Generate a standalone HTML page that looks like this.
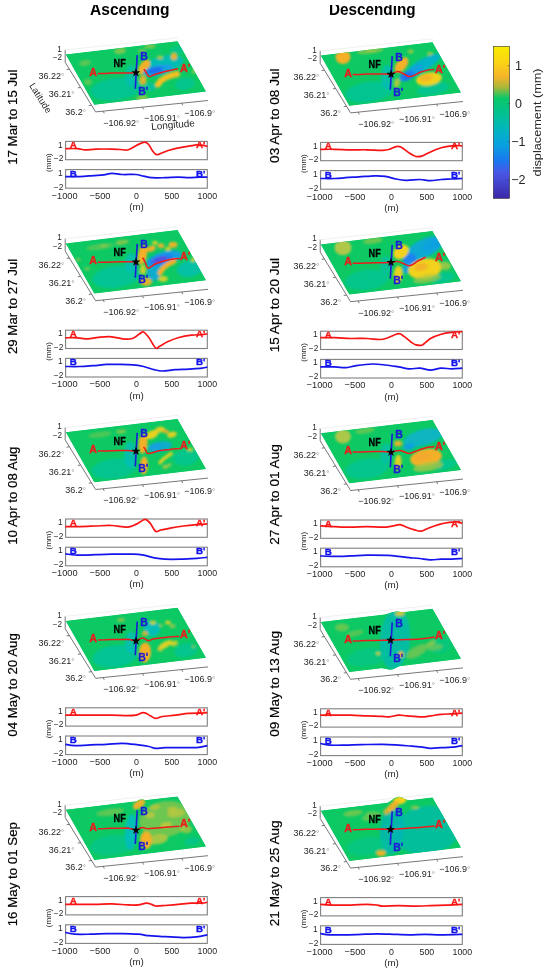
<!DOCTYPE html><html><head><meta charset="utf-8"><style>html,body{margin:0;padding:0;background:#fff;width:550px;height:972px;overflow:hidden}</style></head><body><svg width="550" height="972" viewBox="0 0 550 972" style="display:block">
<defs><filter id="bl" x="-30%" y="-30%" width="160%" height="160%"><feGaussianBlur stdDeviation="1.1"/></filter>
<linearGradient id="cb" x1="0" y1="0" x2="0" y2="1"><stop offset="0" stop-color="#f8ec00"/><stop offset="0.1" stop-color="#fbd514"/><stop offset="0.2" stop-color="#f5b52a"/><stop offset="0.27" stop-color="#a8b83a"/><stop offset="0.34" stop-color="#0ac868"/><stop offset="0.45" stop-color="#00c095"/><stop offset="0.55" stop-color="#00b4c0"/><stop offset="0.65" stop-color="#08a0e0"/><stop offset="0.75" stop-color="#1a78f0"/><stop offset="0.83" stop-color="#4858e6"/><stop offset="1" stop-color="#3c28a8"/></linearGradient></defs>
<rect width="550" height="972" fill="#fff"/>
<g font-family='"Liberation Sans", sans-serif' opacity="0.999">
<text x="90.00" y="14.60" font-size="17.2" text-anchor="start" fill="#000" font-weight="bold" textLength="79.6" lengthAdjust="spacingAndGlyphs" >Ascending</text>
<text x="329.00" y="14.60" font-size="17.2" text-anchor="start" fill="#000" font-weight="bold" textLength="86.6" lengthAdjust="spacingAndGlyphs" >Descending</text>
<rect x="80" y="0" width="350" height="5.0" fill="#fff"/>
<g transform="translate(0.00,0.00)">
<text x="61.80" y="51.60" font-size="8.2" text-anchor="end" fill="#262626" font-weight="normal" >1</text>
<text x="62.00" y="60.20" font-size="8.2" text-anchor="end" fill="#262626" font-weight="normal" >−2</text>
<polyline points="65.2,49.7 65.2,62.3 95.6,111.9 208,100.5" fill="none" stroke="#555" stroke-width="0.8"/>
<line x1="69.43" y1="69.2" x2="66.63" y2="69.53" stroke="#555" stroke-width="0.8"/>
<line x1="80.65" y1="87.5" x2="77.85" y2="87.83" stroke="#555" stroke-width="0.8"/>
<line x1="91.55" y1="105.3" x2="88.75" y2="105.63" stroke="#555" stroke-width="0.8"/>
<line x1="103.1" y1="111.14" x2="104.30" y2="113.34" stroke="#555" stroke-width="0.8"/>
<line x1="142.4" y1="107.15" x2="143.60" y2="109.35" stroke="#555" stroke-width="0.8"/>
<line x1="181.6" y1="103.18" x2="182.80" y2="105.38" stroke="#555" stroke-width="0.8"/>
<line x1="64.8" y1="50" x2="178" y2="37.8" stroke="#ececec" stroke-width="0.8"/>
<clipPath id="cp0"><polygon points="65.8,54.6 177.5,41.3 206.0,91.4 94.3,104.7"/></clipPath>
<g clip-path="url(#cp0)">
<polygon points="65.8,54.6 177.5,41.3 206.0,91.4 94.3,104.7" fill="#0cc964" stroke="#0cc964" stroke-width="4"/>
<g filter="url(#bl)">
<ellipse cx="116" cy="89" rx="26" ry="11" transform="rotate(-8 116 89)" fill="#00c39c" fill-opacity="0.8"/>
<ellipse cx="131" cy="76" rx="6" ry="11" transform="rotate(0 131 76)" fill="#00bcc0" fill-opacity="0.6"/>
<ellipse cx="85" cy="63" rx="6" ry="3" transform="rotate(-10 85 63)" fill="#a8c646" fill-opacity="0.5"/>
<ellipse cx="88" cy="82" rx="4" ry="3" transform="rotate(0 88 82)" fill="#a8c646" fill-opacity="0.5"/>
<ellipse cx="120" cy="51" rx="6" ry="3" transform="rotate(-8 120 51)" fill="#a8c646" fill-opacity="0.7"/>
<ellipse cx="142" cy="51" rx="4" ry="2" transform="rotate(0 142 51)" fill="#a8c646" fill-opacity="0.6"/>
<ellipse cx="164" cy="64" rx="20" ry="8" transform="rotate(-12 164 64)" fill="#00bcc0" fill-opacity="0.85"/>
<ellipse cx="185" cy="84" rx="10" ry="6" transform="rotate(-10 185 84)" fill="#00c39c" fill-opacity="0.7"/>
<ellipse cx="150" cy="87" rx="6" ry="4" transform="rotate(0 150 87)" fill="#00bcc0" fill-opacity="0.6"/>
<ellipse cx="178" cy="50" rx="8" ry="4" transform="rotate(-10 178 50)" fill="#00c39c" fill-opacity="0.6"/>
<ellipse cx="144" cy="67" rx="4.5" ry="8.5" transform="rotate(35 144 67)" fill="#f4b028" fill-opacity="1"/>
<ellipse cx="143" cy="80" rx="3.5" ry="5" transform="rotate(0 143 80)" fill="#f4b028" fill-opacity="0.9"/>
<ellipse cx="158" cy="70" rx="15" ry="5" transform="rotate(-12 158 70)" fill="#12a0e2" fill-opacity="1"/>
<ellipse cx="155" cy="70.5" rx="8" ry="3" transform="rotate(-12 155 70.5)" fill="#1a6ef0" fill-opacity="1"/>
<polyline points="158.0,84.5 161.0,80.5 166.0,77.5 171.0,75.5 177.0,74.0" fill="none" stroke="#f0c024" stroke-width="6" stroke-opacity="1" stroke-linecap="round" stroke-linejoin="round"/>
<ellipse cx="174" cy="56.5" rx="3" ry="3.5" transform="rotate(0 174 56.5)" fill="#f4b028" fill-opacity="0.95"/>
<ellipse cx="160" cy="57.5" rx="3" ry="2" transform="rotate(0 160 57.5)" fill="#c8c83a" fill-opacity="0.8"/>
<ellipse cx="150" cy="46.5" rx="6" ry="2" transform="rotate(-7 150 46.5)" fill="#a8c646" fill-opacity="0.7"/>
<ellipse cx="194" cy="71" rx="2" ry="3" transform="rotate(0 194 71)" fill="#c8c83a" fill-opacity="0.6"/>
<ellipse cx="142" cy="98" rx="6" ry="3" transform="rotate(-8 142 98)" fill="#c8c83a" fill-opacity="0.6"/>
</g></g>
<text x="64.20" y="79.40" font-size="9" text-anchor="end" fill="#262626" font-weight="normal" >36.22<tspan fill="#8a8a8a" font-size="8">°</tspan></text>
<text x="74.50" y="97.40" font-size="9" text-anchor="end" fill="#262626" font-weight="normal" >36.21<tspan fill="#8a8a8a" font-size="8">°</tspan></text>
<text x="86.00" y="115.00" font-size="9" text-anchor="end" fill="#262626" font-weight="normal" >36.2<tspan fill="#8a8a8a" font-size="8">°</tspan></text>
<text x="103.20" y="125.80" font-size="9" text-anchor="start" fill="#262626" font-weight="normal" >−106.92<tspan fill="#8a8a8a" font-size="8">°</tspan></text>
<text x="144.00" y="120.80" font-size="9" text-anchor="start" fill="#262626" font-weight="normal" >−106.91<tspan fill="#8a8a8a" font-size="8">°</tspan></text>
<text x="184.30" y="116.00" font-size="9" text-anchor="start" fill="#262626" font-weight="normal" >−106.9<tspan fill="#8a8a8a" font-size="8">°</tspan></text>
<polyline points="97.7,73.5 105.0,73.4 112.0,73.1 120.0,73.0 128.0,72.9 135.9,72.7" fill="none" stroke="#ee1c1c" stroke-width="1.5" stroke-linejoin="round"/>
<path d="M143.8,69.3 C144.2,69.8 145.2,70.8 146.0,72.0 C146.8,73.2 147.4,76.1 148.9,76.5 C150.4,76.9 152.3,75.3 155.0,74.5 C157.7,73.7 162.2,72.2 165.0,71.5 C167.8,70.8 169.8,70.5 172.0,70.0 C174.2,69.5 177.0,69.0 178.0,68.8" fill="none" stroke="#ee1c1c" stroke-width="1.5" stroke-linejoin="round"/>
<line x1="137.2" y1="55.1" x2="135.3" y2="88.8" stroke="#1c1cd8" stroke-width="1.6"/>
<text x="89.20" y="75.50" font-size="10.8" text-anchor="start" fill="#ee1c1c" font-weight="bold" stroke="#ee1c1c" stroke-width="0.3" >A</text>
<text x="180.00" y="71.60" font-size="10.8" text-anchor="start" fill="#ee1c1c" font-weight="bold" stroke="#ee1c1c" stroke-width="0.3" >A'</text>
<text x="140.20" y="59.60" font-size="10.5" text-anchor="start" fill="#1c1cd8" font-weight="bold" stroke="#1c1cd8" stroke-width="0.3" >B</text>
<text x="138.20" y="94.60" font-size="10.5" text-anchor="start" fill="#1c1cd8" font-weight="bold" stroke="#1c1cd8" stroke-width="0.3" >B'</text>
<text x="113.60" y="67.00" font-size="10.3" text-anchor="start" fill="#000" font-weight="bold" textLength="12.2" lengthAdjust="spacingAndGlyphs" stroke="#000" stroke-width="0.3" >NF</text>
<polygon points="135.9,68.0 137.0,71.2 140.4,71.2 137.7,73.3 138.7,76.5 135.9,74.6 133.1,76.5 134.1,73.3 131.4,71.2 134.8,71.2" fill="#000"/>
<rect x="65.6" y="141.4" width="141.7" height="18.3" fill="none" stroke="#808080" stroke-width="1.1"/>
<text x="62.60" y="147.50" font-size="8.4" text-anchor="end" fill="#262626" font-weight="normal" >1</text>
<text x="63.40" y="161.10" font-size="8.4" text-anchor="end" fill="#262626" font-weight="normal" >−2</text>
<path d="M65.3,148.6 C67.3,148.6 74.0,148.4 77.3,148.6 C80.6,148.8 82.1,149.8 85.2,149.9 C88.3,150.0 91.5,149.2 95.9,149.1 C100.3,149.0 107.8,149.0 111.8,149.1 C115.8,149.2 117.3,149.4 120.0,149.5 C122.7,149.6 125.5,150.5 128.2,149.8 C130.9,149.1 133.7,146.7 136.4,145.4 C139.1,144.1 142.5,142.2 144.5,142.1 C146.5,141.9 147.2,143.0 148.6,144.5 C150.0,146.0 151.3,149.4 152.7,151.1 C154.1,152.8 155.2,154.4 156.8,154.7 C158.5,155.0 160.6,153.4 162.6,152.7 C164.6,152.0 166.6,151.1 169.1,150.3 C171.6,149.5 174.0,148.8 177.3,148.1 C180.6,147.4 185.4,146.7 188.7,146.2 C192.0,145.7 194.4,145.0 196.9,144.9 C199.4,144.8 201.8,145.1 203.5,145.4 C205.2,145.7 206.7,146.3 207.3,146.5" fill="none" stroke="#f81414" stroke-width="1.7" stroke-linejoin="round"/>
<text x="69.70" y="148.40" font-size="9.8" text-anchor="start" fill="#f81414" font-weight="bold" stroke="#f81414" stroke-width="0.35" >A</text>
<text x="196.00" y="148.40" font-size="9.8" text-anchor="start" fill="#f81414" font-weight="bold" stroke="#f81414" stroke-width="0.35" >A'</text>
<rect x="65.6" y="169.6" width="141.7" height="18.6" fill="none" stroke="#808080" stroke-width="1.1"/>
<text x="62.60" y="175.70" font-size="8.4" text-anchor="end" fill="#262626" font-weight="normal" >1</text>
<text x="63.40" y="189.60" font-size="8.4" text-anchor="end" fill="#262626" font-weight="normal" >−2</text>
<path d="M65.3,176.6 C67.7,176.6 75.2,176.8 79.9,176.6 C84.6,176.4 89.2,175.9 93.2,175.6 C97.2,175.3 100.7,175.2 103.8,174.8 C106.9,174.4 108.7,173.5 111.8,173.4 C114.9,173.3 118.4,174.3 122.4,174.5 C126.4,174.7 132.2,174.2 135.7,174.5 C139.2,174.8 140.9,175.6 143.6,176.1 C146.2,176.6 148.0,177.4 151.6,177.7 C155.2,178.0 160.5,177.8 164.9,177.7 C169.3,177.6 174.1,177.1 178.1,177.1 C182.1,177.1 185.2,177.7 188.8,177.7 C192.4,177.7 196.3,177.2 199.4,177.1 C202.5,177.0 206.0,177.1 207.3,177.1" fill="none" stroke="#1414ec" stroke-width="1.7" stroke-linejoin="round"/>
<text x="69.70" y="176.60" font-size="9.8" text-anchor="start" fill="#1414ec" font-weight="bold" stroke="#1414ec" stroke-width="0.35" >B</text>
<text x="196.00" y="176.60" font-size="9.8" text-anchor="start" fill="#1414ec" font-weight="bold" stroke="#1414ec" stroke-width="0.35" >B'</text>
<text x="64.60" y="198.70" font-size="9.3" text-anchor="middle" fill="#262626" font-weight="normal" textLength="25.96" lengthAdjust="spacingAndGlyphs" >−1000</text>
<text x="100.02" y="198.70" font-size="9.3" text-anchor="middle" fill="#262626" font-weight="normal" textLength="20.82" lengthAdjust="spacingAndGlyphs" >−500</text>
<text x="136.45" y="198.70" font-size="9.3" text-anchor="middle" fill="#262626" font-weight="normal" textLength="4.91" lengthAdjust="spacingAndGlyphs" >0</text>
<text x="171.88" y="198.70" font-size="9.3" text-anchor="middle" fill="#262626" font-weight="normal" textLength="14.69" lengthAdjust="spacingAndGlyphs" >500</text>
<text x="207.30" y="198.70" font-size="9.3" text-anchor="middle" fill="#262626" font-weight="normal" textLength="19.58" lengthAdjust="spacingAndGlyphs" >1000</text>
<text x="136.50" y="209.80" font-size="9.8" text-anchor="middle" fill="#262626" font-weight="normal" >(m)</text>
<text transform="translate(51.3,162.6) rotate(-90)" font-size="8" text-anchor="middle" fill="#262626">(mm)</text>
</g>
<text transform="translate(16.90,117.20) rotate(-90)" font-size="13.3" text-anchor="middle" fill="#000" stroke="#000" stroke-width="0.2">17 Mar to 15 Jul</text>
<g transform="translate(255.00,1.00)">
<text x="61.80" y="51.60" font-size="8.2" text-anchor="end" fill="#262626" font-weight="normal" >1</text>
<text x="62.00" y="60.20" font-size="8.2" text-anchor="end" fill="#262626" font-weight="normal" >−2</text>
<polyline points="65.2,49.7 65.2,62.3 95.6,111.9 208,100.5" fill="none" stroke="#555" stroke-width="0.8"/>
<line x1="69.43" y1="69.2" x2="66.63" y2="69.53" stroke="#555" stroke-width="0.8"/>
<line x1="80.65" y1="87.5" x2="77.85" y2="87.83" stroke="#555" stroke-width="0.8"/>
<line x1="91.55" y1="105.3" x2="88.75" y2="105.63" stroke="#555" stroke-width="0.8"/>
<line x1="103.1" y1="111.14" x2="104.30" y2="113.34" stroke="#555" stroke-width="0.8"/>
<line x1="142.4" y1="107.15" x2="143.60" y2="109.35" stroke="#555" stroke-width="0.8"/>
<line x1="181.6" y1="103.18" x2="182.80" y2="105.38" stroke="#555" stroke-width="0.8"/>
<line x1="64.8" y1="50" x2="178" y2="37.8" stroke="#ececec" stroke-width="0.8"/>
<clipPath id="cp1"><polygon points="65.8,54.6 177.5,41.3 206.0,91.4 94.3,104.7"/></clipPath>
<g clip-path="url(#cp1)">
<polygon points="65.8,54.6 177.5,41.3 206.0,91.4 94.3,104.7" fill="#0cc964" stroke="#0cc964" stroke-width="4"/>
<g filter="url(#bl)">
<ellipse cx="114" cy="91" rx="24" ry="10" transform="rotate(-8 114 91)" fill="#00c39c" fill-opacity="0.8"/>
<ellipse cx="178" cy="88" rx="16" ry="6" transform="rotate(-10 178 88)" fill="#00c39c" fill-opacity="0.75"/>
<ellipse cx="132" cy="76" rx="6" ry="12" transform="rotate(0 132 76)" fill="#00bcc0" fill-opacity="0.7"/>
<ellipse cx="120" cy="49" rx="9" ry="3" transform="rotate(-8 120 49)" fill="#a8c646" fill-opacity="0.6"/>
<ellipse cx="155.6" cy="50.5" rx="3" ry="2" transform="rotate(0 155.6 50.5)" fill="#c8c83a" fill-opacity="0.7"/>
<ellipse cx="175" cy="52.8" rx="3" ry="2" transform="rotate(0 175 52.8)" fill="#c8c83a" fill-opacity="0.7"/>
<ellipse cx="168" cy="64" rx="20" ry="6" transform="rotate(-30 168 64)" fill="#06b0d0" fill-opacity="0.9"/>
<ellipse cx="160" cy="70" rx="9" ry="4.5" transform="rotate(-30 160 70)" fill="#12a0e2" fill-opacity="0.9"/>
<ellipse cx="88" cy="56" rx="7.5" ry="7" transform="rotate(0 88 56)" fill="#f4b028" fill-opacity="1"/>
<ellipse cx="112" cy="50" rx="10" ry="3" transform="rotate(-8 112 50)" fill="#a8c646" fill-opacity="0.6"/>
<ellipse cx="146.5" cy="64" rx="5" ry="9" transform="rotate(40 146.5 64)" fill="#f4b028" fill-opacity="1"/>
<ellipse cx="142" cy="82" rx="3" ry="5" transform="rotate(10 142 82)" fill="#c8c83a" fill-opacity="0.8"/>
<ellipse cx="152" cy="75" rx="8" ry="4.5" transform="rotate(-25 152 75)" fill="#1a80f0" fill-opacity="1"/>
<ellipse cx="152.6" cy="75.4" rx="4.5" ry="3" transform="rotate(-20 152.6 75.4)" fill="#1a6ef0" fill-opacity="1"/>
<ellipse cx="174" cy="78" rx="13" ry="6.5" transform="rotate(-10 174 78)" fill="#f2d21e" fill-opacity="1"/>
<ellipse cx="171" cy="77" rx="7" ry="3.5" transform="rotate(-10 171 77)" fill="#f4b028" fill-opacity="0.9"/>
</g></g>
<text x="64.20" y="79.40" font-size="9" text-anchor="end" fill="#262626" font-weight="normal" >36.22<tspan fill="#8a8a8a" font-size="8">°</tspan></text>
<text x="74.50" y="97.40" font-size="9" text-anchor="end" fill="#262626" font-weight="normal" >36.21<tspan fill="#8a8a8a" font-size="8">°</tspan></text>
<text x="86.00" y="115.00" font-size="9" text-anchor="end" fill="#262626" font-weight="normal" >36.2<tspan fill="#8a8a8a" font-size="8">°</tspan></text>
<text x="103.20" y="125.80" font-size="9" text-anchor="start" fill="#262626" font-weight="normal" >−106.92<tspan fill="#8a8a8a" font-size="8">°</tspan></text>
<text x="144.00" y="120.80" font-size="9" text-anchor="start" fill="#262626" font-weight="normal" >−106.91<tspan fill="#8a8a8a" font-size="8">°</tspan></text>
<text x="184.30" y="116.00" font-size="9" text-anchor="start" fill="#262626" font-weight="normal" >−106.9<tspan fill="#8a8a8a" font-size="8">°</tspan></text>
<polyline points="97.7,73.5 105.0,73.4 112.0,73.1 120.0,73.0 128.0,72.9 136.0,73.3" fill="none" stroke="#ee1c1c" stroke-width="1.5" stroke-linejoin="round"/>
<path d="M136.0,73.3 C137.1,72.8 140.6,70.5 142.6,70.4 C144.6,70.3 146.1,71.7 148.0,72.5 C149.9,73.3 152.0,75.2 153.8,75.5 C155.6,75.8 157.1,75.2 159.0,74.5 C160.9,73.8 162.9,72.1 165.1,71.2 C167.3,70.3 169.7,69.8 172.0,69.3 C174.3,68.8 178.0,68.6 179.2,68.4" fill="none" stroke="#ee1c1c" stroke-width="1.5" stroke-linejoin="round"/>
<line x1="137.2" y1="55.1" x2="135.3" y2="88.8" stroke="#1c1cd8" stroke-width="1.6"/>
<text x="89.20" y="75.50" font-size="10.8" text-anchor="start" fill="#ee1c1c" font-weight="bold" stroke="#ee1c1c" stroke-width="0.3" >A</text>
<text x="180.00" y="71.60" font-size="10.8" text-anchor="start" fill="#ee1c1c" font-weight="bold" stroke="#ee1c1c" stroke-width="0.3" >A'</text>
<text x="140.20" y="59.60" font-size="10.5" text-anchor="start" fill="#1c1cd8" font-weight="bold" stroke="#1c1cd8" stroke-width="0.3" >B</text>
<text x="138.20" y="94.60" font-size="10.5" text-anchor="start" fill="#1c1cd8" font-weight="bold" stroke="#1c1cd8" stroke-width="0.3" >B'</text>
<text x="113.60" y="67.00" font-size="10.3" text-anchor="start" fill="#000" font-weight="bold" textLength="12.2" lengthAdjust="spacingAndGlyphs" stroke="#000" stroke-width="0.3" >NF</text>
<polygon points="136.0,68.6 137.1,71.8 140.5,71.8 137.8,73.9 138.8,77.1 136.0,75.2 133.2,77.1 134.2,73.9 131.5,71.8 134.9,71.8" fill="#000"/>
<rect x="65.6" y="141.4" width="141.7" height="18.3" fill="none" stroke="#808080" stroke-width="1.1"/>
<text x="62.60" y="147.50" font-size="8.4" text-anchor="end" fill="#262626" font-weight="normal" >1</text>
<text x="63.40" y="161.10" font-size="8.4" text-anchor="end" fill="#262626" font-weight="normal" >−2</text>
<path d="M65.3,148.3 C67.7,148.3 74.8,148.2 79.9,148.3 C85.0,148.4 90.6,148.7 95.9,148.8 C101.2,148.9 106.5,148.7 111.8,148.8 C117.1,148.9 124.0,149.4 127.7,149.3 C131.5,149.2 132.1,148.9 134.3,148.3 C136.5,147.7 139.0,145.9 141.0,145.6 C143.0,145.2 144.1,145.1 146.3,146.2 C148.5,147.3 151.9,150.4 154.3,152.0 C156.7,153.6 158.7,155.0 160.9,155.5 C163.1,156.0 165.1,155.7 167.5,154.9 C169.9,154.1 172.4,152.3 175.5,150.9 C178.6,149.5 182.6,147.7 186.1,146.7 C189.6,145.7 193.2,145.1 196.7,144.8 C200.2,144.5 205.5,144.8 207.3,144.8" fill="none" stroke="#f81414" stroke-width="1.7" stroke-linejoin="round"/>
<text x="69.70" y="148.40" font-size="9.8" text-anchor="start" fill="#f81414" font-weight="bold" stroke="#f81414" stroke-width="0.35" >A</text>
<text x="196.00" y="148.40" font-size="9.8" text-anchor="start" fill="#f81414" font-weight="bold" stroke="#f81414" stroke-width="0.35" >A'</text>
<rect x="65.6" y="169.6" width="141.7" height="18.6" fill="none" stroke="#808080" stroke-width="1.1"/>
<text x="62.60" y="175.70" font-size="8.4" text-anchor="end" fill="#262626" font-weight="normal" >1</text>
<text x="63.40" y="189.60" font-size="8.4" text-anchor="end" fill="#262626" font-weight="normal" >−2</text>
<path d="M65.3,177.5 C67.7,177.5 75.7,177.6 79.9,177.5 C84.1,177.4 86.5,177.0 90.5,176.7 C94.5,176.4 98.9,176.2 103.8,175.9 C108.7,175.6 115.3,174.9 119.7,174.8 C124.1,174.7 126.9,174.9 130.4,175.4 C134.0,175.9 137.5,177.3 141.0,178.0 C144.5,178.7 147.6,179.2 151.6,179.3 C155.6,179.4 160.9,178.4 164.9,178.5 C168.9,178.6 172.0,179.6 175.5,179.6 C179.0,179.6 182.6,178.8 186.1,178.5 C189.6,178.2 193.2,178.2 196.7,178.0 C200.2,177.8 205.5,177.6 207.3,177.5" fill="none" stroke="#1414ec" stroke-width="1.7" stroke-linejoin="round"/>
<text x="69.70" y="176.60" font-size="9.8" text-anchor="start" fill="#1414ec" font-weight="bold" stroke="#1414ec" stroke-width="0.35" >B</text>
<text x="196.00" y="176.60" font-size="9.8" text-anchor="start" fill="#1414ec" font-weight="bold" stroke="#1414ec" stroke-width="0.35" >B'</text>
<text x="64.60" y="198.70" font-size="9.3" text-anchor="middle" fill="#262626" font-weight="normal" textLength="25.96" lengthAdjust="spacingAndGlyphs" >−1000</text>
<text x="100.02" y="198.70" font-size="9.3" text-anchor="middle" fill="#262626" font-weight="normal" textLength="20.82" lengthAdjust="spacingAndGlyphs" >−500</text>
<text x="136.45" y="198.70" font-size="9.3" text-anchor="middle" fill="#262626" font-weight="normal" textLength="4.91" lengthAdjust="spacingAndGlyphs" >0</text>
<text x="171.88" y="198.70" font-size="9.3" text-anchor="middle" fill="#262626" font-weight="normal" textLength="14.69" lengthAdjust="spacingAndGlyphs" >500</text>
<text x="207.30" y="198.70" font-size="9.3" text-anchor="middle" fill="#262626" font-weight="normal" textLength="19.58" lengthAdjust="spacingAndGlyphs" >1000</text>
<text x="136.50" y="209.80" font-size="9.8" text-anchor="middle" fill="#262626" font-weight="normal" >(m)</text>
<text transform="translate(51.3,162.6) rotate(-90)" font-size="8" text-anchor="middle" fill="#262626">(mm)</text>
</g>
<text transform="translate(279.10,115.70) rotate(-90)" font-size="13.6" text-anchor="middle" fill="#000" stroke="#000" stroke-width="0.2">03 Apr to 08 Jul</text>
<g transform="translate(0.00,188.80)">
<text x="61.80" y="51.60" font-size="8.2" text-anchor="end" fill="#262626" font-weight="normal" >1</text>
<text x="62.00" y="60.20" font-size="8.2" text-anchor="end" fill="#262626" font-weight="normal" >−2</text>
<polyline points="65.2,49.7 65.2,62.3 95.6,111.9 208,100.5" fill="none" stroke="#555" stroke-width="0.8"/>
<line x1="69.43" y1="69.2" x2="66.63" y2="69.53" stroke="#555" stroke-width="0.8"/>
<line x1="80.65" y1="87.5" x2="77.85" y2="87.83" stroke="#555" stroke-width="0.8"/>
<line x1="91.55" y1="105.3" x2="88.75" y2="105.63" stroke="#555" stroke-width="0.8"/>
<line x1="103.1" y1="111.14" x2="104.30" y2="113.34" stroke="#555" stroke-width="0.8"/>
<line x1="142.4" y1="107.15" x2="143.60" y2="109.35" stroke="#555" stroke-width="0.8"/>
<line x1="181.6" y1="103.18" x2="182.80" y2="105.38" stroke="#555" stroke-width="0.8"/>
<line x1="64.8" y1="50" x2="178" y2="37.8" stroke="#ececec" stroke-width="0.8"/>
<clipPath id="cp2"><polygon points="65.8,54.6 177.5,41.3 206.0,91.4 94.3,104.7"/></clipPath>
<g clip-path="url(#cp2)">
<polygon points="65.8,54.6 177.5,41.3 206.0,91.4 94.3,104.7" fill="#0cc964" stroke="#0cc964" stroke-width="4"/>
<g filter="url(#bl)">
<ellipse cx="116" cy="88" rx="24" ry="11" transform="rotate(-8 116 88)" fill="#00c39c" fill-opacity="0.85"/>
<ellipse cx="131" cy="74" rx="6" ry="10" transform="rotate(0 131 74)" fill="#00bcc0" fill-opacity="0.7"/>
<ellipse cx="190" cy="80" rx="13" ry="8" transform="rotate(-10 190 80)" fill="#00bcc0" fill-opacity="0.7"/>
<ellipse cx="104" cy="57" rx="4" ry="1.5" transform="rotate(-8 104 57)" fill="#a8c646" fill-opacity="0.7"/>
<ellipse cx="122" cy="53.5" rx="7" ry="2.5" transform="rotate(-8 122 53.5)" fill="#a8c646" fill-opacity="0.7"/>
<ellipse cx="78" cy="71" rx="3" ry="2" transform="rotate(0 78 71)" fill="#a8c646" fill-opacity="0.5"/>
<ellipse cx="87" cy="80" rx="3" ry="2" transform="rotate(0 87 80)" fill="#a8c646" fill-opacity="0.5"/>
<ellipse cx="100" cy="58" rx="14" ry="3" transform="rotate(-8 100 58)" fill="#a8c646" fill-opacity="0.4"/>
<ellipse cx="164" cy="70" rx="18" ry="7" transform="rotate(-16 164 70)" fill="#12a0e2" fill-opacity="1"/>
<ellipse cx="154" cy="84" rx="7" ry="8" transform="rotate(0 154 84)" fill="#08a8d8" fill-opacity="0.9"/>
<ellipse cx="161" cy="71" rx="13" ry="4.5" transform="rotate(-16 161 71)" fill="#1e82f0" fill-opacity="1"/>
<ellipse cx="160" cy="71" rx="8" ry="2.8" transform="rotate(-16 160 71)" fill="#5a4ee0" fill-opacity="1"/>
<ellipse cx="142.5" cy="66" rx="4.5" ry="10" transform="rotate(10 142.5 66)" fill="#f4b028" fill-opacity="1"/>
<ellipse cx="143" cy="81" rx="3" ry="5" transform="rotate(0 143 81)" fill="#f2d21e" fill-opacity="0.8"/>
<ellipse cx="151" cy="60" rx="5" ry="3" transform="rotate(-20 151 60)" fill="#f4b028" fill-opacity="0.95"/>
<polyline points="160.0,84.0 163.0,79.5 168.0,75.5 174.0,72.5" fill="none" stroke="#f4b028" stroke-width="5" stroke-opacity="1" stroke-linecap="round" stroke-linejoin="round"/>
<ellipse cx="161" cy="57" rx="3.5" ry="2.5" transform="rotate(0 161 57)" fill="#f4b028" fill-opacity="0.9"/>
<ellipse cx="173" cy="56" rx="4.5" ry="3" transform="rotate(0 173 56)" fill="#f4b028" fill-opacity="0.95"/>
<ellipse cx="168" cy="60" rx="3" ry="2" transform="rotate(0 168 60)" fill="#f2d21e" fill-opacity="0.8"/>
<ellipse cx="155" cy="54" rx="3" ry="2" transform="rotate(0 155 54)" fill="#f2d21e" fill-opacity="0.8"/>
<ellipse cx="163" cy="90" rx="5" ry="3" transform="rotate(0 163 90)" fill="#f2d21e" fill-opacity="0.8"/>
<ellipse cx="193" cy="71" rx="2" ry="2.5" transform="rotate(0 193 71)" fill="#f2d21e" fill-opacity="0.8"/>
<ellipse cx="146" cy="93" rx="6" ry="4" transform="rotate(0 146 93)" fill="#f4b028" fill-opacity="0.9"/>
</g></g>
<text x="64.20" y="79.40" font-size="9" text-anchor="end" fill="#262626" font-weight="normal" >36.22<tspan fill="#8a8a8a" font-size="8">°</tspan></text>
<text x="74.50" y="97.40" font-size="9" text-anchor="end" fill="#262626" font-weight="normal" >36.21<tspan fill="#8a8a8a" font-size="8">°</tspan></text>
<text x="86.00" y="115.00" font-size="9" text-anchor="end" fill="#262626" font-weight="normal" >36.2<tspan fill="#8a8a8a" font-size="8">°</tspan></text>
<text x="103.20" y="125.80" font-size="9" text-anchor="start" fill="#262626" font-weight="normal" >−106.92<tspan fill="#8a8a8a" font-size="8">°</tspan></text>
<text x="144.00" y="120.80" font-size="9" text-anchor="start" fill="#262626" font-weight="normal" >−106.91<tspan fill="#8a8a8a" font-size="8">°</tspan></text>
<text x="184.30" y="116.00" font-size="9" text-anchor="start" fill="#262626" font-weight="normal" >−106.9<tspan fill="#8a8a8a" font-size="8">°</tspan></text>
<polyline points="97.7,73.5 105.0,73.4 112.0,73.1 120.0,73.0 128.0,72.9 136.0,73.2" fill="none" stroke="#ee1c1c" stroke-width="1.5" stroke-linejoin="round"/>
<path d="M142.8,68.8 C143.2,69.7 144.6,72.2 145.5,74.0 C146.4,75.8 146.4,79.2 148.1,79.4 C149.8,79.6 152.4,76.3 155.7,74.9 C159.0,73.5 163.7,72.0 167.7,71.1 C171.7,70.2 177.8,69.8 179.8,69.6" fill="none" stroke="#ee1c1c" stroke-width="1.5" stroke-linejoin="round"/>
<line x1="137.2" y1="55.1" x2="135.3" y2="88.8" stroke="#1c1cd8" stroke-width="1.6"/>
<text x="89.20" y="75.50" font-size="10.8" text-anchor="start" fill="#ee1c1c" font-weight="bold" stroke="#ee1c1c" stroke-width="0.3" >A</text>
<text x="180.00" y="71.60" font-size="10.8" text-anchor="start" fill="#ee1c1c" font-weight="bold" stroke="#ee1c1c" stroke-width="0.3" >A'</text>
<text x="140.20" y="59.60" font-size="10.5" text-anchor="start" fill="#1c1cd8" font-weight="bold" stroke="#1c1cd8" stroke-width="0.3" >B</text>
<text x="138.20" y="94.60" font-size="10.5" text-anchor="start" fill="#1c1cd8" font-weight="bold" stroke="#1c1cd8" stroke-width="0.3" >B'</text>
<text x="113.60" y="67.00" font-size="10.3" text-anchor="start" fill="#000" font-weight="bold" textLength="12.2" lengthAdjust="spacingAndGlyphs" stroke="#000" stroke-width="0.3" >NF</text>
<polygon points="136.0,68.5 137.1,71.7 140.5,71.7 137.8,73.8 138.8,77.0 136.0,75.1 133.2,77.0 134.2,73.8 131.5,71.7 134.9,71.7" fill="#000"/>
<rect x="65.6" y="141.4" width="141.7" height="18.3" fill="none" stroke="#808080" stroke-width="1.1"/>
<text x="62.60" y="147.50" font-size="8.4" text-anchor="end" fill="#262626" font-weight="normal" >1</text>
<text x="63.40" y="161.10" font-size="8.4" text-anchor="end" fill="#262626" font-weight="normal" >−2</text>
<path d="M65.3,149.0 C67.3,149.0 73.5,148.8 77.3,149.0 C81.1,149.2 84.4,150.2 87.9,150.1 C91.4,150.0 94.5,148.8 98.5,148.5 C102.5,148.2 107.4,147.7 111.8,148.0 C116.2,148.3 121.6,150.1 125.1,150.3 C128.6,150.6 130.6,150.4 133.0,149.5 C135.4,148.6 137.9,146.1 139.7,145.0 C141.5,143.9 142.0,142.5 143.6,143.2 C145.2,143.9 147.0,146.3 149.0,149.0 C151.0,151.7 153.8,157.7 155.6,159.1 C157.4,160.5 157.6,158.5 159.6,157.5 C161.6,156.5 164.4,154.4 167.5,153.0 C170.6,151.6 174.1,150.1 178.1,149.0 C182.1,147.9 187.4,146.9 191.4,146.4 C195.4,145.9 199.3,146.0 202.0,145.8 C204.7,145.6 206.4,145.1 207.3,145.0" fill="none" stroke="#f81414" stroke-width="1.7" stroke-linejoin="round"/>
<text x="69.70" y="148.40" font-size="9.8" text-anchor="start" fill="#f81414" font-weight="bold" stroke="#f81414" stroke-width="0.35" >A</text>
<text x="196.00" y="148.40" font-size="9.8" text-anchor="start" fill="#f81414" font-weight="bold" stroke="#f81414" stroke-width="0.35" >A'</text>
<rect x="65.6" y="169.6" width="141.7" height="18.6" fill="none" stroke="#808080" stroke-width="1.1"/>
<text x="62.60" y="175.70" font-size="8.4" text-anchor="end" fill="#262626" font-weight="normal" >1</text>
<text x="63.40" y="189.60" font-size="8.4" text-anchor="end" fill="#262626" font-weight="normal" >−2</text>
<path d="M65.3,177.7 C67.7,177.7 75.2,177.8 79.9,177.7 C84.6,177.6 88.8,177.2 93.2,176.9 C97.6,176.6 102.5,175.8 106.5,175.6 C110.5,175.4 112.7,175.5 117.1,175.6 C121.5,175.7 128.6,175.8 133.0,176.1 C137.4,176.4 140.0,176.9 143.6,177.7 C147.2,178.5 151.2,180.2 154.3,180.9 C157.4,181.7 158.7,182.2 162.2,182.2 C165.7,182.2 171.1,181.2 175.5,180.9 C179.9,180.6 184.4,180.6 188.8,180.3 C193.2,180.0 198.9,179.7 202.0,179.3 C205.1,179.0 206.4,178.4 207.3,178.2" fill="none" stroke="#1414ec" stroke-width="1.7" stroke-linejoin="round"/>
<text x="69.70" y="176.60" font-size="9.8" text-anchor="start" fill="#1414ec" font-weight="bold" stroke="#1414ec" stroke-width="0.35" >B</text>
<text x="196.00" y="176.60" font-size="9.8" text-anchor="start" fill="#1414ec" font-weight="bold" stroke="#1414ec" stroke-width="0.35" >B'</text>
<text x="64.60" y="198.70" font-size="9.3" text-anchor="middle" fill="#262626" font-weight="normal" textLength="25.96" lengthAdjust="spacingAndGlyphs" >−1000</text>
<text x="100.02" y="198.70" font-size="9.3" text-anchor="middle" fill="#262626" font-weight="normal" textLength="20.82" lengthAdjust="spacingAndGlyphs" >−500</text>
<text x="136.45" y="198.70" font-size="9.3" text-anchor="middle" fill="#262626" font-weight="normal" textLength="4.91" lengthAdjust="spacingAndGlyphs" >0</text>
<text x="171.88" y="198.70" font-size="9.3" text-anchor="middle" fill="#262626" font-weight="normal" textLength="14.69" lengthAdjust="spacingAndGlyphs" >500</text>
<text x="207.30" y="198.70" font-size="9.3" text-anchor="middle" fill="#262626" font-weight="normal" textLength="19.58" lengthAdjust="spacingAndGlyphs" >1000</text>
<text x="136.50" y="209.80" font-size="9.8" text-anchor="middle" fill="#262626" font-weight="normal" >(m)</text>
<text transform="translate(51.3,162.6) rotate(-90)" font-size="8" text-anchor="middle" fill="#262626">(mm)</text>
</g>
<text transform="translate(16.90,306.45) rotate(-90)" font-size="13.3" text-anchor="middle" fill="#000" stroke="#000" stroke-width="0.2">29 Mar to 27 Jul</text>
<g transform="translate(255.00,189.80)">
<text x="61.80" y="51.60" font-size="8.2" text-anchor="end" fill="#262626" font-weight="normal" >1</text>
<text x="62.00" y="60.20" font-size="8.2" text-anchor="end" fill="#262626" font-weight="normal" >−2</text>
<polyline points="65.2,49.7 65.2,62.3 95.6,111.9 208,100.5" fill="none" stroke="#555" stroke-width="0.8"/>
<line x1="69.43" y1="69.2" x2="66.63" y2="69.53" stroke="#555" stroke-width="0.8"/>
<line x1="80.65" y1="87.5" x2="77.85" y2="87.83" stroke="#555" stroke-width="0.8"/>
<line x1="91.55" y1="105.3" x2="88.75" y2="105.63" stroke="#555" stroke-width="0.8"/>
<line x1="103.1" y1="111.14" x2="104.30" y2="113.34" stroke="#555" stroke-width="0.8"/>
<line x1="142.4" y1="107.15" x2="143.60" y2="109.35" stroke="#555" stroke-width="0.8"/>
<line x1="181.6" y1="103.18" x2="182.80" y2="105.38" stroke="#555" stroke-width="0.8"/>
<line x1="64.8" y1="50" x2="178" y2="37.8" stroke="#ececec" stroke-width="0.8"/>
<clipPath id="cp3"><polygon points="65.8,54.6 177.5,41.3 206.0,91.4 94.3,104.7"/></clipPath>
<g clip-path="url(#cp3)">
<polygon points="65.8,54.6 177.5,41.3 206.0,91.4 94.3,104.7" fill="#0cc964" stroke="#0cc964" stroke-width="4"/>
<g filter="url(#bl)">
<ellipse cx="112" cy="90" rx="22" ry="10" transform="rotate(-8 112 90)" fill="#00c39c" fill-opacity="0.7"/>
<ellipse cx="188" cy="88" rx="12" ry="5" transform="rotate(-10 188 88)" fill="#00c39c" fill-opacity="0.7"/>
<ellipse cx="131" cy="75" rx="6" ry="9" transform="rotate(0 131 75)" fill="#00bcc0" fill-opacity="0.5"/>
<ellipse cx="88" cy="58" rx="8.5" ry="7.5" transform="rotate(0 88 58)" fill="#b8c848" fill-opacity="0.95"/>
<ellipse cx="118" cy="51" rx="10" ry="3" transform="rotate(-8 118 51)" fill="#a8c646" fill-opacity="0.6"/>
<ellipse cx="170" cy="58" rx="20" ry="9" transform="rotate(-25 170 58)" fill="#08a8d8" fill-opacity="0.95"/>
<ellipse cx="178" cy="55" rx="11" ry="5" transform="rotate(-25 178 55)" fill="#12a0e2" fill-opacity="0.9"/>
<ellipse cx="155" cy="70" rx="7" ry="6.5" transform="rotate(-20 155 70)" fill="#1e82f0" fill-opacity="1"/>
<ellipse cx="152" cy="78" rx="4" ry="6" transform="rotate(20 152 78)" fill="#12a0e2" fill-opacity="0.9"/>
<ellipse cx="146" cy="62" rx="8.5" ry="6.5" transform="rotate(-40 146 62)" fill="#f2d21e" fill-opacity="1"/>
<ellipse cx="143" cy="85" rx="4.5" ry="9" transform="rotate(5 143 85)" fill="#f2d21e" fill-opacity="0.95"/>
<ellipse cx="170" cy="79" rx="17" ry="10" transform="rotate(-10 170 79)" fill="#f2d21e" fill-opacity="1"/>
<ellipse cx="166" cy="77" rx="7" ry="4" transform="rotate(-10 166 77)" fill="#f4b028" fill-opacity="0.85"/>
<ellipse cx="172" cy="89" rx="14" ry="4" transform="rotate(-10 172 89)" fill="#a8c646" fill-opacity="0.7"/>
<ellipse cx="190" cy="76" rx="6" ry="4" transform="rotate(0 190 76)" fill="#c8c83a" fill-opacity="0.7"/>
</g></g>
<text x="64.20" y="79.40" font-size="9" text-anchor="end" fill="#262626" font-weight="normal" >36.22<tspan fill="#8a8a8a" font-size="8">°</tspan></text>
<text x="74.50" y="97.40" font-size="9" text-anchor="end" fill="#262626" font-weight="normal" >36.21<tspan fill="#8a8a8a" font-size="8">°</tspan></text>
<text x="86.00" y="115.00" font-size="9" text-anchor="end" fill="#262626" font-weight="normal" >36.2<tspan fill="#8a8a8a" font-size="8">°</tspan></text>
<text x="103.20" y="125.80" font-size="9" text-anchor="start" fill="#262626" font-weight="normal" >−106.92<tspan fill="#8a8a8a" font-size="8">°</tspan></text>
<text x="144.00" y="120.80" font-size="9" text-anchor="start" fill="#262626" font-weight="normal" >−106.91<tspan fill="#8a8a8a" font-size="8">°</tspan></text>
<text x="184.30" y="116.00" font-size="9" text-anchor="start" fill="#262626" font-weight="normal" >−106.9<tspan fill="#8a8a8a" font-size="8">°</tspan></text>
<polyline points="97.7,73.5 105.0,73.4 112.0,73.1 120.0,73.0 128.0,72.9 136.0,72.6" fill="none" stroke="#ee1c1c" stroke-width="1.5" stroke-linejoin="round"/>
<path d="M136.0,72.6 C137.1,72.4 140.6,71.4 142.6,71.6 C144.6,71.8 146.1,72.8 148.0,73.5 C149.9,74.2 152.1,75.7 153.8,75.9 C155.5,76.1 156.6,75.2 158.0,74.5 C159.4,73.8 160.2,72.8 162.3,71.6 C164.4,70.4 169.3,68.1 170.7,67.4" fill="none" stroke="#ee1c1c" stroke-width="1.5" stroke-linejoin="round"/>
<line x1="137.2" y1="55.1" x2="135.3" y2="88.8" stroke="#1c1cd8" stroke-width="1.6"/>
<text x="89.20" y="75.50" font-size="10.8" text-anchor="start" fill="#ee1c1c" font-weight="bold" stroke="#ee1c1c" stroke-width="0.3" >A</text>
<text x="180.00" y="71.60" font-size="10.8" text-anchor="start" fill="#ee1c1c" font-weight="bold" stroke="#ee1c1c" stroke-width="0.3" >A'</text>
<text x="140.20" y="59.60" font-size="10.5" text-anchor="start" fill="#1c1cd8" font-weight="bold" stroke="#1c1cd8" stroke-width="0.3" >B</text>
<text x="138.20" y="94.60" font-size="10.5" text-anchor="start" fill="#1c1cd8" font-weight="bold" stroke="#1c1cd8" stroke-width="0.3" >B'</text>
<text x="113.60" y="67.00" font-size="10.3" text-anchor="start" fill="#000" font-weight="bold" textLength="12.2" lengthAdjust="spacingAndGlyphs" stroke="#000" stroke-width="0.3" >NF</text>
<polygon points="136.0,67.9 137.1,71.1 140.5,71.1 137.8,73.2 138.8,76.4 136.0,74.5 133.2,76.4 134.2,73.2 131.5,71.1 134.9,71.1" fill="#000"/>
<rect x="65.6" y="141.4" width="141.7" height="18.3" fill="none" stroke="#808080" stroke-width="1.1"/>
<text x="62.60" y="147.50" font-size="8.4" text-anchor="end" fill="#262626" font-weight="normal" >1</text>
<text x="63.40" y="161.10" font-size="8.4" text-anchor="end" fill="#262626" font-weight="normal" >−2</text>
<path d="M65.3,147.9 C67.7,147.9 74.8,147.8 79.9,147.9 C85.0,148.0 90.6,148.6 95.9,148.7 C101.2,148.8 106.9,148.5 111.8,148.7 C116.7,148.9 121.6,149.8 125.1,149.7 C128.6,149.6 129.9,148.9 133.0,147.9 C136.1,146.9 140.9,144.1 143.6,143.9 C146.3,143.7 147.0,145.3 149.0,146.6 C151.0,147.9 153.6,150.5 155.6,151.9 C157.6,153.3 158.9,154.6 160.9,155.1 C162.9,155.6 165.1,156.2 167.5,155.1 C169.9,154.0 172.4,150.5 175.5,148.7 C178.6,146.9 182.6,145.4 186.1,144.4 C189.6,143.4 193.2,143.0 196.7,142.6 C200.2,142.2 205.5,142.0 207.3,141.9" fill="none" stroke="#f81414" stroke-width="1.7" stroke-linejoin="round"/>
<text x="69.70" y="148.40" font-size="9.8" text-anchor="start" fill="#f81414" font-weight="bold" stroke="#f81414" stroke-width="0.35" >A</text>
<text x="196.00" y="148.40" font-size="9.8" text-anchor="start" fill="#f81414" font-weight="bold" stroke="#f81414" stroke-width="0.35" >A'</text>
<rect x="65.6" y="169.6" width="141.7" height="18.6" fill="none" stroke="#808080" stroke-width="1.1"/>
<text x="62.60" y="175.70" font-size="8.4" text-anchor="end" fill="#262626" font-weight="normal" >1</text>
<text x="63.40" y="189.60" font-size="8.4" text-anchor="end" fill="#262626" font-weight="normal" >−2</text>
<path d="M65.3,177.1 C67.7,177.1 75.7,177.0 79.9,177.1 C84.1,177.2 87.0,178.1 90.5,177.9 C94.0,177.7 96.8,176.4 101.2,175.8 C105.6,175.2 112.2,174.3 117.1,174.2 C122.0,174.1 126.0,174.7 130.4,175.2 C134.8,175.7 139.6,176.5 143.6,177.1 C147.6,177.7 150.8,178.8 154.3,179.0 C157.9,179.2 161.4,178.2 164.9,178.4 C168.4,178.6 172.0,180.3 175.5,180.3 C179.0,180.3 182.6,178.6 186.1,178.4 C189.6,178.2 193.2,179.0 196.7,179.0 C200.2,179.0 205.5,178.5 207.3,178.4" fill="none" stroke="#1414ec" stroke-width="1.7" stroke-linejoin="round"/>
<text x="69.70" y="176.60" font-size="9.8" text-anchor="start" fill="#1414ec" font-weight="bold" stroke="#1414ec" stroke-width="0.35" >B</text>
<text x="196.00" y="176.60" font-size="9.8" text-anchor="start" fill="#1414ec" font-weight="bold" stroke="#1414ec" stroke-width="0.35" >B'</text>
<text x="64.60" y="198.70" font-size="9.3" text-anchor="middle" fill="#262626" font-weight="normal" textLength="25.96" lengthAdjust="spacingAndGlyphs" >−1000</text>
<text x="100.02" y="198.70" font-size="9.3" text-anchor="middle" fill="#262626" font-weight="normal" textLength="20.82" lengthAdjust="spacingAndGlyphs" >−500</text>
<text x="136.45" y="198.70" font-size="9.3" text-anchor="middle" fill="#262626" font-weight="normal" textLength="4.91" lengthAdjust="spacingAndGlyphs" >0</text>
<text x="171.88" y="198.70" font-size="9.3" text-anchor="middle" fill="#262626" font-weight="normal" textLength="14.69" lengthAdjust="spacingAndGlyphs" >500</text>
<text x="207.30" y="198.70" font-size="9.3" text-anchor="middle" fill="#262626" font-weight="normal" textLength="19.58" lengthAdjust="spacingAndGlyphs" >1000</text>
<text x="136.50" y="209.80" font-size="9.8" text-anchor="middle" fill="#262626" font-weight="normal" >(m)</text>
<text transform="translate(51.3,162.6) rotate(-90)" font-size="8" text-anchor="middle" fill="#262626">(mm)</text>
</g>
<text transform="translate(279.10,305.10) rotate(-90)" font-size="13.6" text-anchor="middle" fill="#000" stroke="#000" stroke-width="0.2">15 Apr to 20 Jul</text>
<g transform="translate(0.00,377.60)">
<text x="61.80" y="51.60" font-size="8.2" text-anchor="end" fill="#262626" font-weight="normal" >1</text>
<text x="62.00" y="60.20" font-size="8.2" text-anchor="end" fill="#262626" font-weight="normal" >−2</text>
<polyline points="65.2,49.7 65.2,62.3 95.6,111.9 208,100.5" fill="none" stroke="#555" stroke-width="0.8"/>
<line x1="69.43" y1="69.2" x2="66.63" y2="69.53" stroke="#555" stroke-width="0.8"/>
<line x1="80.65" y1="87.5" x2="77.85" y2="87.83" stroke="#555" stroke-width="0.8"/>
<line x1="91.55" y1="105.3" x2="88.75" y2="105.63" stroke="#555" stroke-width="0.8"/>
<line x1="103.1" y1="111.14" x2="104.30" y2="113.34" stroke="#555" stroke-width="0.8"/>
<line x1="142.4" y1="107.15" x2="143.60" y2="109.35" stroke="#555" stroke-width="0.8"/>
<line x1="181.6" y1="103.18" x2="182.80" y2="105.38" stroke="#555" stroke-width="0.8"/>
<line x1="64.8" y1="50" x2="178" y2="37.8" stroke="#ececec" stroke-width="0.8"/>
<clipPath id="cp4"><polygon points="65.8,54.6 177.5,41.3 206.0,91.4 94.3,104.7"/></clipPath>
<g clip-path="url(#cp4)">
<polygon points="65.8,54.6 177.5,41.3 206.0,91.4 94.3,104.7" fill="#0cc964" stroke="#0cc964" stroke-width="4"/>
<g filter="url(#bl)">
<ellipse cx="114" cy="91" rx="23" ry="10" transform="rotate(-8 114 91)" fill="#00c39c" fill-opacity="0.75"/>
<ellipse cx="130" cy="77" rx="6" ry="13" transform="rotate(0 130 77)" fill="#00bcc0" fill-opacity="0.75"/>
<ellipse cx="186" cy="80" rx="13" ry="8" transform="rotate(-10 186 80)" fill="#00c39c" fill-opacity="0.7"/>
<ellipse cx="121" cy="54" rx="5" ry="2" transform="rotate(-8 121 54)" fill="#a8c646" fill-opacity="0.7"/>
<ellipse cx="165" cy="89" rx="3" ry="2" transform="rotate(0 165 89)" fill="#a8c646" fill-opacity="0.7"/>
<ellipse cx="100" cy="57" rx="12" ry="3" transform="rotate(-8 100 57)" fill="#a8c646" fill-opacity="0.4"/>
<ellipse cx="160" cy="69" rx="12" ry="5" transform="rotate(-10 160 69)" fill="#08a8d8" fill-opacity="0.9"/>
<ellipse cx="155" cy="69" rx="6" ry="3.5" transform="rotate(-15 155 69)" fill="#12a0e2" fill-opacity="1"/>
<ellipse cx="143" cy="66" rx="4.5" ry="10" transform="rotate(5 143 66)" fill="#f4b028" fill-opacity="1"/>
<ellipse cx="144" cy="88" rx="4" ry="9" transform="rotate(3 144 88)" fill="#f4b028" fill-opacity="1"/>
<ellipse cx="152" cy="57" rx="7" ry="4" transform="rotate(-25 152 57)" fill="#f2d21e" fill-opacity="0.95"/>
<ellipse cx="160" cy="52" rx="5" ry="3" transform="rotate(-10 160 52)" fill="#f2d21e" fill-opacity="0.9"/>
<ellipse cx="172" cy="57" rx="5" ry="3" transform="rotate(-15 172 57)" fill="#f2d21e" fill-opacity="0.9"/>
<ellipse cx="166" cy="54" rx="3" ry="2" transform="rotate(0 166 54)" fill="#f4b028" fill-opacity="0.9"/>
<polyline points="160.0,85.0 164.0,81.0 171.0,76.0" fill="none" stroke="#f2d21e" stroke-width="3.5" stroke-opacity="0.9" stroke-linecap="round" stroke-linejoin="round"/>
<polyline points="165.0,90.0 170.0,87.0" fill="none" stroke="#a8c646" stroke-width="3" stroke-opacity="0.8" stroke-linecap="round" stroke-linejoin="round"/>
<ellipse cx="190" cy="72" rx="3" ry="2" transform="rotate(0 190 72)" fill="#f2d21e" fill-opacity="0.7"/>
</g></g>
<text x="64.20" y="79.40" font-size="9" text-anchor="end" fill="#262626" font-weight="normal" >36.22<tspan fill="#8a8a8a" font-size="8">°</tspan></text>
<text x="74.50" y="97.40" font-size="9" text-anchor="end" fill="#262626" font-weight="normal" >36.21<tspan fill="#8a8a8a" font-size="8">°</tspan></text>
<text x="86.00" y="115.00" font-size="9" text-anchor="end" fill="#262626" font-weight="normal" >36.2<tspan fill="#8a8a8a" font-size="8">°</tspan></text>
<text x="103.20" y="125.80" font-size="9" text-anchor="start" fill="#262626" font-weight="normal" >−106.92<tspan fill="#8a8a8a" font-size="8">°</tspan></text>
<text x="144.00" y="120.80" font-size="9" text-anchor="start" fill="#262626" font-weight="normal" >−106.91<tspan fill="#8a8a8a" font-size="8">°</tspan></text>
<text x="184.30" y="116.00" font-size="9" text-anchor="start" fill="#262626" font-weight="normal" >−106.9<tspan fill="#8a8a8a" font-size="8">°</tspan></text>
<polyline points="97.7,73.5 105.0,73.4 112.0,73.1 120.0,73.0 128.0,72.9 136.0,73.6" fill="none" stroke="#ee1c1c" stroke-width="1.5" stroke-linejoin="round"/>
<path d="M143.6,69.2 C144.0,69.8 145.2,71.9 146.0,73.0 C146.8,74.1 145.7,76.0 148.1,76.0 C150.5,76.0 156.5,73.7 160.2,73.0 C163.8,72.3 166.7,72.2 170.0,71.8 C173.3,71.4 178.2,71.0 179.8,70.8" fill="none" stroke="#ee1c1c" stroke-width="1.5" stroke-linejoin="round"/>
<line x1="137.2" y1="55.1" x2="135.3" y2="88.8" stroke="#1c1cd8" stroke-width="1.6"/>
<text x="89.20" y="75.50" font-size="10.8" text-anchor="start" fill="#ee1c1c" font-weight="bold" stroke="#ee1c1c" stroke-width="0.3" >A</text>
<text x="180.00" y="71.60" font-size="10.8" text-anchor="start" fill="#ee1c1c" font-weight="bold" stroke="#ee1c1c" stroke-width="0.3" >A'</text>
<text x="140.20" y="59.60" font-size="10.5" text-anchor="start" fill="#1c1cd8" font-weight="bold" stroke="#1c1cd8" stroke-width="0.3" >B</text>
<text x="138.20" y="94.60" font-size="10.5" text-anchor="start" fill="#1c1cd8" font-weight="bold" stroke="#1c1cd8" stroke-width="0.3" >B'</text>
<text x="113.60" y="67.00" font-size="10.3" text-anchor="start" fill="#000" font-weight="bold" textLength="12.2" lengthAdjust="spacingAndGlyphs" stroke="#000" stroke-width="0.3" >NF</text>
<polygon points="136.0,68.9 137.1,72.1 140.5,72.1 137.8,74.2 138.8,77.4 136.0,75.5 133.2,77.4 134.2,74.2 131.5,72.1 134.9,72.1" fill="#000"/>
<rect x="65.6" y="141.4" width="141.7" height="18.3" fill="none" stroke="#808080" stroke-width="1.1"/>
<text x="62.60" y="147.50" font-size="8.4" text-anchor="end" fill="#262626" font-weight="normal" >1</text>
<text x="63.40" y="161.10" font-size="8.4" text-anchor="end" fill="#262626" font-weight="normal" >−2</text>
<path d="M65.3,149.0 C67.7,149.0 74.8,149.1 79.9,149.0 C85.0,148.9 90.6,148.6 95.9,148.4 C101.2,148.2 106.5,147.7 111.8,147.9 C117.1,148.1 123.5,149.8 127.7,149.5 C131.9,149.2 134.1,147.6 137.0,146.3 C139.9,145.0 142.8,141.9 145.0,141.8 C147.2,141.7 148.5,143.8 150.3,145.8 C152.1,147.8 153.8,152.6 155.6,153.7 C157.4,154.8 158.5,152.9 160.9,152.4 C163.3,151.9 166.4,151.2 170.2,150.5 C174.0,149.8 179.1,149.0 183.5,148.4 C187.9,147.8 192.7,147.4 196.7,147.1 C200.7,146.8 205.5,146.4 207.3,146.3" fill="none" stroke="#f81414" stroke-width="1.7" stroke-linejoin="round"/>
<text x="69.70" y="148.40" font-size="9.8" text-anchor="start" fill="#f81414" font-weight="bold" stroke="#f81414" stroke-width="0.35" >A</text>
<text x="196.00" y="148.40" font-size="9.8" text-anchor="start" fill="#f81414" font-weight="bold" stroke="#f81414" stroke-width="0.35" >A'</text>
<rect x="65.6" y="169.6" width="141.7" height="18.6" fill="none" stroke="#808080" stroke-width="1.1"/>
<text x="62.60" y="175.70" font-size="8.4" text-anchor="end" fill="#262626" font-weight="normal" >1</text>
<text x="63.40" y="189.60" font-size="8.4" text-anchor="end" fill="#262626" font-weight="normal" >−2</text>
<path d="M65.3,176.3 C67.7,176.5 74.8,177.5 79.9,177.6 C85.0,177.7 90.6,177.3 95.9,177.1 C101.2,176.9 105.6,176.7 111.8,176.6 C118.0,176.5 127.7,176.4 133.0,176.6 C138.3,176.8 140.0,177.0 143.6,177.6 C147.2,178.2 150.8,179.6 154.3,180.3 C157.9,181.0 160.5,181.4 164.9,181.6 C169.3,181.8 175.5,181.7 180.8,181.6 C186.1,181.5 192.3,181.1 196.7,180.8 C201.1,180.5 205.5,179.9 207.3,179.7" fill="none" stroke="#1414ec" stroke-width="1.7" stroke-linejoin="round"/>
<text x="69.70" y="176.60" font-size="9.8" text-anchor="start" fill="#1414ec" font-weight="bold" stroke="#1414ec" stroke-width="0.35" >B</text>
<text x="196.00" y="176.60" font-size="9.8" text-anchor="start" fill="#1414ec" font-weight="bold" stroke="#1414ec" stroke-width="0.35" >B'</text>
<text x="64.60" y="198.70" font-size="9.3" text-anchor="middle" fill="#262626" font-weight="normal" textLength="25.96" lengthAdjust="spacingAndGlyphs" >−1000</text>
<text x="100.02" y="198.70" font-size="9.3" text-anchor="middle" fill="#262626" font-weight="normal" textLength="20.82" lengthAdjust="spacingAndGlyphs" >−500</text>
<text x="136.45" y="198.70" font-size="9.3" text-anchor="middle" fill="#262626" font-weight="normal" textLength="4.91" lengthAdjust="spacingAndGlyphs" >0</text>
<text x="171.88" y="198.70" font-size="9.3" text-anchor="middle" fill="#262626" font-weight="normal" textLength="14.69" lengthAdjust="spacingAndGlyphs" >500</text>
<text x="207.30" y="198.70" font-size="9.3" text-anchor="middle" fill="#262626" font-weight="normal" textLength="19.58" lengthAdjust="spacingAndGlyphs" >1000</text>
<text x="136.50" y="209.80" font-size="9.8" text-anchor="middle" fill="#262626" font-weight="normal" >(m)</text>
<text transform="translate(51.3,162.6) rotate(-90)" font-size="8" text-anchor="middle" fill="#262626">(mm)</text>
</g>
<text transform="translate(16.90,495.70) rotate(-90)" font-size="13.3" text-anchor="middle" fill="#000" stroke="#000" stroke-width="0.2">10 Apr to 08 Aug</text>
<g transform="translate(255.00,378.60)">
<text x="61.80" y="51.60" font-size="8.2" text-anchor="end" fill="#262626" font-weight="normal" >1</text>
<text x="62.00" y="60.20" font-size="8.2" text-anchor="end" fill="#262626" font-weight="normal" >−2</text>
<polyline points="65.2,49.7 65.2,62.3 95.6,111.9 208,100.5" fill="none" stroke="#555" stroke-width="0.8"/>
<line x1="69.43" y1="69.2" x2="66.63" y2="69.53" stroke="#555" stroke-width="0.8"/>
<line x1="80.65" y1="87.5" x2="77.85" y2="87.83" stroke="#555" stroke-width="0.8"/>
<line x1="91.55" y1="105.3" x2="88.75" y2="105.63" stroke="#555" stroke-width="0.8"/>
<line x1="103.1" y1="111.14" x2="104.30" y2="113.34" stroke="#555" stroke-width="0.8"/>
<line x1="142.4" y1="107.15" x2="143.60" y2="109.35" stroke="#555" stroke-width="0.8"/>
<line x1="181.6" y1="103.18" x2="182.80" y2="105.38" stroke="#555" stroke-width="0.8"/>
<line x1="64.8" y1="50" x2="178" y2="37.8" stroke="#ececec" stroke-width="0.8"/>
<clipPath id="cp5"><polygon points="65.8,54.6 177.5,41.3 206.0,91.4 94.3,104.7"/></clipPath>
<g clip-path="url(#cp5)">
<polygon points="65.8,54.6 177.5,41.3 206.0,91.4 94.3,104.7" fill="#0cc964" stroke="#0cc964" stroke-width="4"/>
<g filter="url(#bl)">
<ellipse cx="112" cy="90" rx="22" ry="10" transform="rotate(-8 112 90)" fill="#00c39c" fill-opacity="0.7"/>
<ellipse cx="190" cy="86" rx="12" ry="5" transform="rotate(-10 190 86)" fill="#00c39c" fill-opacity="0.7"/>
<ellipse cx="131" cy="75" rx="6" ry="10" transform="rotate(0 131 75)" fill="#00bcc0" fill-opacity="0.6"/>
<ellipse cx="88" cy="58" rx="8" ry="7" transform="rotate(0 88 58)" fill="#bcc846" fill-opacity="0.9"/>
<ellipse cx="110" cy="52" rx="10" ry="3" transform="rotate(-8 110 52)" fill="#a8c646" fill-opacity="0.5"/>
<ellipse cx="168" cy="59" rx="20" ry="8" transform="rotate(-15 168 59)" fill="#08b0d0" fill-opacity="0.85"/>
<ellipse cx="154" cy="68" rx="6" ry="3.5" transform="rotate(-10 154 68)" fill="#12a0e2" fill-opacity="0.95"/>
<ellipse cx="143" cy="65" rx="4" ry="3" transform="rotate(0 143 65)" fill="#f4b028" fill-opacity="0.9"/>
<ellipse cx="143" cy="84" rx="3.5" ry="8" transform="rotate(5 143 84)" fill="#f2d21e" fill-opacity="0.9"/>
<ellipse cx="171" cy="79" rx="16" ry="8.5" transform="rotate(-10 171 79)" fill="#f4b028" fill-opacity="1"/>
<ellipse cx="168" cy="78" rx="8" ry="4" transform="rotate(-10 168 78)" fill="#f0a830" fill-opacity="0.8"/>
<ellipse cx="173" cy="88" rx="15" ry="4.5" transform="rotate(-10 173 88)" fill="#a8c646" fill-opacity="0.8"/>
</g></g>
<text x="64.20" y="79.40" font-size="9" text-anchor="end" fill="#262626" font-weight="normal" >36.22<tspan fill="#8a8a8a" font-size="8">°</tspan></text>
<text x="74.50" y="97.40" font-size="9" text-anchor="end" fill="#262626" font-weight="normal" >36.21<tspan fill="#8a8a8a" font-size="8">°</tspan></text>
<text x="86.00" y="115.00" font-size="9" text-anchor="end" fill="#262626" font-weight="normal" >36.2<tspan fill="#8a8a8a" font-size="8">°</tspan></text>
<text x="103.20" y="125.80" font-size="9" text-anchor="start" fill="#262626" font-weight="normal" >−106.92<tspan fill="#8a8a8a" font-size="8">°</tspan></text>
<text x="144.00" y="120.80" font-size="9" text-anchor="start" fill="#262626" font-weight="normal" >−106.91<tspan fill="#8a8a8a" font-size="8">°</tspan></text>
<text x="184.30" y="116.00" font-size="9" text-anchor="start" fill="#262626" font-weight="normal" >−106.9<tspan fill="#8a8a8a" font-size="8">°</tspan></text>
<polyline points="97.7,73.5 105.0,73.4 112.0,73.1 120.0,73.0 128.0,72.9 136.0,73.6" fill="none" stroke="#ee1c1c" stroke-width="1.5" stroke-linejoin="round"/>
<path d="M136.0,73.6 C137.6,73.3 142.4,71.8 145.4,72.0 C148.4,72.2 151.0,74.8 153.8,74.8 C156.6,74.8 159.5,72.9 162.3,72.0 C165.1,71.1 167.8,69.9 170.7,69.2 C173.6,68.5 178.0,68.2 179.5,68.0" fill="none" stroke="#ee1c1c" stroke-width="1.5" stroke-linejoin="round"/>
<line x1="137.2" y1="55.1" x2="135.3" y2="88.8" stroke="#1c1cd8" stroke-width="1.6"/>
<text x="89.20" y="75.50" font-size="10.8" text-anchor="start" fill="#ee1c1c" font-weight="bold" stroke="#ee1c1c" stroke-width="0.3" >A</text>
<text x="180.00" y="71.60" font-size="10.8" text-anchor="start" fill="#ee1c1c" font-weight="bold" stroke="#ee1c1c" stroke-width="0.3" >A'</text>
<text x="140.20" y="59.60" font-size="10.5" text-anchor="start" fill="#1c1cd8" font-weight="bold" stroke="#1c1cd8" stroke-width="0.3" >B</text>
<text x="138.20" y="94.60" font-size="10.5" text-anchor="start" fill="#1c1cd8" font-weight="bold" stroke="#1c1cd8" stroke-width="0.3" >B'</text>
<text x="113.60" y="67.00" font-size="10.3" text-anchor="start" fill="#000" font-weight="bold" textLength="12.2" lengthAdjust="spacingAndGlyphs" stroke="#000" stroke-width="0.3" >NF</text>
<polygon points="136.0,68.9 137.1,72.1 140.5,72.1 137.8,74.2 138.8,77.4 136.0,75.5 133.2,77.4 134.2,74.2 131.5,72.1 134.9,72.1" fill="#000"/>
<rect x="65.6" y="141.4" width="141.7" height="18.3" fill="none" stroke="#808080" stroke-width="1.1"/>
<text x="62.60" y="147.50" font-size="8.4" text-anchor="end" fill="#262626" font-weight="normal" >1</text>
<text x="63.40" y="161.10" font-size="8.4" text-anchor="end" fill="#262626" font-weight="normal" >−2</text>
<path d="M65.3,147.3 C67.7,147.4 74.8,147.9 79.9,148.1 C85.0,148.3 90.6,148.6 95.9,148.6 C101.2,148.6 106.5,148.1 111.8,148.1 C117.1,148.1 123.3,148.7 127.7,148.6 C132.1,148.5 135.4,147.7 138.3,147.3 C141.2,146.9 142.8,145.8 145.0,146.0 C147.2,146.2 149.2,147.7 151.6,148.6 C154.0,149.5 157.2,150.6 159.6,151.3 C162.0,152.0 164.0,152.8 166.2,152.6 C168.4,152.4 169.9,151.0 172.8,149.9 C175.7,148.8 179.9,147.0 183.5,146.0 C187.1,145.0 191.0,144.2 194.1,143.8 C197.2,143.4 199.8,143.2 202.0,143.3 C204.2,143.4 206.4,144.4 207.3,144.6" fill="none" stroke="#f81414" stroke-width="1.7" stroke-linejoin="round"/>
<text x="69.70" y="148.40" font-size="9.8" text-anchor="start" fill="#f81414" font-weight="bold" stroke="#f81414" stroke-width="0.35" >A</text>
<text x="196.00" y="148.40" font-size="9.8" text-anchor="start" fill="#f81414" font-weight="bold" stroke="#f81414" stroke-width="0.35" >A'</text>
<rect x="65.6" y="169.6" width="141.7" height="18.6" fill="none" stroke="#808080" stroke-width="1.1"/>
<text x="62.60" y="175.70" font-size="8.4" text-anchor="end" fill="#262626" font-weight="normal" >1</text>
<text x="63.40" y="189.60" font-size="8.4" text-anchor="end" fill="#262626" font-weight="normal" >−2</text>
<path d="M65.3,177.3 C67.7,177.4 74.8,177.8 79.9,177.8 C85.0,177.8 90.6,177.5 95.9,177.3 C101.2,177.1 105.6,176.6 111.8,176.5 C118.0,176.4 127.7,176.6 133.0,176.8 C138.3,177.0 140.0,177.4 143.6,177.8 C147.2,178.2 150.8,178.8 154.3,179.1 C157.9,179.4 161.4,179.5 164.9,179.9 C168.4,180.3 172.0,181.2 175.5,181.3 C179.0,181.4 182.6,180.6 186.1,180.5 C189.6,180.4 193.2,180.6 196.7,180.5 C200.2,180.4 205.5,180.0 207.3,179.9" fill="none" stroke="#1414ec" stroke-width="1.7" stroke-linejoin="round"/>
<text x="69.70" y="176.60" font-size="9.8" text-anchor="start" fill="#1414ec" font-weight="bold" stroke="#1414ec" stroke-width="0.35" >B</text>
<text x="196.00" y="176.60" font-size="9.8" text-anchor="start" fill="#1414ec" font-weight="bold" stroke="#1414ec" stroke-width="0.35" >B'</text>
<text x="64.60" y="198.70" font-size="9.3" text-anchor="middle" fill="#262626" font-weight="normal" textLength="25.96" lengthAdjust="spacingAndGlyphs" >−1000</text>
<text x="100.02" y="198.70" font-size="9.3" text-anchor="middle" fill="#262626" font-weight="normal" textLength="20.82" lengthAdjust="spacingAndGlyphs" >−500</text>
<text x="136.45" y="198.70" font-size="9.3" text-anchor="middle" fill="#262626" font-weight="normal" textLength="4.91" lengthAdjust="spacingAndGlyphs" >0</text>
<text x="171.88" y="198.70" font-size="9.3" text-anchor="middle" fill="#262626" font-weight="normal" textLength="14.69" lengthAdjust="spacingAndGlyphs" >500</text>
<text x="207.30" y="198.70" font-size="9.3" text-anchor="middle" fill="#262626" font-weight="normal" textLength="19.58" lengthAdjust="spacingAndGlyphs" >1000</text>
<text x="136.50" y="209.80" font-size="9.8" text-anchor="middle" fill="#262626" font-weight="normal" >(m)</text>
<text transform="translate(51.3,162.6) rotate(-90)" font-size="8" text-anchor="middle" fill="#262626">(mm)</text>
</g>
<text transform="translate(279.10,494.50) rotate(-90)" font-size="13.6" text-anchor="middle" fill="#000" stroke="#000" stroke-width="0.2">27 Apr to 01 Aug</text>
<g transform="translate(0.00,566.40)">
<text x="61.80" y="51.60" font-size="8.2" text-anchor="end" fill="#262626" font-weight="normal" >1</text>
<text x="62.00" y="60.20" font-size="8.2" text-anchor="end" fill="#262626" font-weight="normal" >−2</text>
<polyline points="65.2,49.7 65.2,62.3 95.6,111.9 208,100.5" fill="none" stroke="#555" stroke-width="0.8"/>
<line x1="69.43" y1="69.2" x2="66.63" y2="69.53" stroke="#555" stroke-width="0.8"/>
<line x1="80.65" y1="87.5" x2="77.85" y2="87.83" stroke="#555" stroke-width="0.8"/>
<line x1="91.55" y1="105.3" x2="88.75" y2="105.63" stroke="#555" stroke-width="0.8"/>
<line x1="103.1" y1="111.14" x2="104.30" y2="113.34" stroke="#555" stroke-width="0.8"/>
<line x1="142.4" y1="107.15" x2="143.60" y2="109.35" stroke="#555" stroke-width="0.8"/>
<line x1="181.6" y1="103.18" x2="182.80" y2="105.38" stroke="#555" stroke-width="0.8"/>
<line x1="64.8" y1="50" x2="178" y2="37.8" stroke="#ececec" stroke-width="0.8"/>
<clipPath id="cp6"><polygon points="65.8,54.6 177.5,41.3 206.0,91.4 94.3,104.7"/></clipPath>
<g clip-path="url(#cp6)">
<polygon points="65.8,54.6 177.5,41.3 206.0,91.4 94.3,104.7" fill="#0cc964" stroke="#0cc964" stroke-width="4"/>
<g filter="url(#bl)">
<ellipse cx="115" cy="90" rx="23" ry="11" transform="rotate(-8 115 90)" fill="#00c39c" fill-opacity="0.85"/>
<ellipse cx="131" cy="76" rx="6" ry="11" transform="rotate(0 131 76)" fill="#00bcc0" fill-opacity="0.7"/>
<ellipse cx="186" cy="84" rx="12" ry="7" transform="rotate(-10 186 84)" fill="#00c39c" fill-opacity="0.7"/>
<ellipse cx="121" cy="53.5" rx="4" ry="2" transform="rotate(-8 121 53.5)" fill="#a8c646" fill-opacity="0.7"/>
<ellipse cx="160" cy="59" rx="3" ry="1.5" transform="rotate(0 160 59)" fill="#a8c646" fill-opacity="0.8"/>
<ellipse cx="172.5" cy="59.5" rx="3" ry="2" transform="rotate(0 172.5 59.5)" fill="#a8c646" fill-opacity="0.8"/>
<ellipse cx="193.5" cy="80" rx="2" ry="1.5" transform="rotate(0 193.5 80)" fill="#a8c646" fill-opacity="0.7"/>
<ellipse cx="152" cy="62" rx="8" ry="8" transform="rotate(0 152 62)" fill="#00bcc0" fill-opacity="0.9"/>
<ellipse cx="145" cy="86" rx="6" ry="10" transform="rotate(3 145 86)" fill="#f4b028" fill-opacity="1"/>
<ellipse cx="145" cy="67" rx="3" ry="2.5" transform="rotate(0 145 67)" fill="#f4b028" fill-opacity="0.8"/>
<ellipse cx="165" cy="78.5" rx="8" ry="3" transform="rotate(-30 165 78.5)" fill="#f2d21e" fill-opacity="0.9"/>
<ellipse cx="174" cy="77" rx="4" ry="2.5" transform="rotate(-20 174 77)" fill="#f2d21e" fill-opacity="0.8"/>
<ellipse cx="160" cy="83" rx="3" ry="2" transform="rotate(0 160 83)" fill="#c8c83a" fill-opacity="0.8"/>
<ellipse cx="153" cy="56" rx="3" ry="2" transform="rotate(0 153 56)" fill="#f2d21e" fill-opacity="0.8"/>
<ellipse cx="168" cy="56" rx="3" ry="2" transform="rotate(0 168 56)" fill="#f2d21e" fill-opacity="0.8"/>
</g></g>
<text x="64.20" y="79.40" font-size="9" text-anchor="end" fill="#262626" font-weight="normal" >36.22<tspan fill="#8a8a8a" font-size="8">°</tspan></text>
<text x="74.50" y="97.40" font-size="9" text-anchor="end" fill="#262626" font-weight="normal" >36.21<tspan fill="#8a8a8a" font-size="8">°</tspan></text>
<text x="86.00" y="115.00" font-size="9" text-anchor="end" fill="#262626" font-weight="normal" >36.2<tspan fill="#8a8a8a" font-size="8">°</tspan></text>
<text x="103.20" y="125.80" font-size="9" text-anchor="start" fill="#262626" font-weight="normal" >−106.92<tspan fill="#8a8a8a" font-size="8">°</tspan></text>
<text x="144.00" y="120.80" font-size="9" text-anchor="start" fill="#262626" font-weight="normal" >−106.91<tspan fill="#8a8a8a" font-size="8">°</tspan></text>
<text x="184.30" y="116.00" font-size="9" text-anchor="start" fill="#262626" font-weight="normal" >−106.9<tspan fill="#8a8a8a" font-size="8">°</tspan></text>
<polyline points="97.7,73.5 105.0,73.4 112.0,73.1 120.0,73.0 128.0,72.9 136.0,74.5" fill="none" stroke="#ee1c1c" stroke-width="1.5" stroke-linejoin="round"/>
<path d="M136.0,74.5 C137.1,74.0 140.6,71.6 142.6,71.6 C144.6,71.5 146.3,74.1 148.2,74.2 C150.1,74.3 151.0,72.8 153.8,72.3 C156.6,71.8 160.8,71.6 165.0,71.2 C169.2,70.8 176.8,70.2 179.2,70.0" fill="none" stroke="#ee1c1c" stroke-width="1.5" stroke-linejoin="round"/>
<line x1="137.2" y1="55.1" x2="135.3" y2="88.8" stroke="#1c1cd8" stroke-width="1.6"/>
<text x="89.20" y="75.50" font-size="10.8" text-anchor="start" fill="#ee1c1c" font-weight="bold" stroke="#ee1c1c" stroke-width="0.3" >A</text>
<text x="180.00" y="71.60" font-size="10.8" text-anchor="start" fill="#ee1c1c" font-weight="bold" stroke="#ee1c1c" stroke-width="0.3" >A'</text>
<text x="140.20" y="59.60" font-size="10.5" text-anchor="start" fill="#1c1cd8" font-weight="bold" stroke="#1c1cd8" stroke-width="0.3" >B</text>
<text x="138.20" y="94.60" font-size="10.5" text-anchor="start" fill="#1c1cd8" font-weight="bold" stroke="#1c1cd8" stroke-width="0.3" >B'</text>
<text x="113.60" y="67.00" font-size="10.3" text-anchor="start" fill="#000" font-weight="bold" textLength="12.2" lengthAdjust="spacingAndGlyphs" stroke="#000" stroke-width="0.3" >NF</text>
<polygon points="136.0,69.8 137.1,73.0 140.5,73.0 137.8,75.1 138.8,78.3 136.0,76.4 133.2,78.3 134.2,75.1 131.5,73.0 134.9,73.0" fill="#000"/>
<rect x="65.6" y="141.4" width="141.7" height="18.3" fill="none" stroke="#808080" stroke-width="1.1"/>
<text x="62.60" y="147.50" font-size="8.4" text-anchor="end" fill="#262626" font-weight="normal" >1</text>
<text x="63.40" y="161.10" font-size="8.4" text-anchor="end" fill="#262626" font-weight="normal" >−2</text>
<path d="M65.3,148.8 C67.7,148.8 74.8,148.8 79.9,148.8 C85.0,148.8 90.6,148.8 95.9,148.8 C101.2,148.8 106.5,148.7 111.8,148.8 C117.1,148.9 123.7,149.3 127.7,149.3 C131.7,149.3 133.0,149.3 135.7,148.8 C138.3,148.3 141.2,146.1 143.6,146.2 C146.0,146.3 148.3,148.3 150.3,149.3 C152.3,150.3 153.6,151.9 155.6,152.0 C157.6,152.1 158.9,150.6 162.2,150.1 C165.5,149.6 171.1,149.3 175.5,148.8 C179.9,148.3 184.4,147.3 188.8,147.0 C193.2,146.7 198.9,146.8 202.0,146.7 C205.1,146.6 206.4,146.3 207.3,146.2" fill="none" stroke="#f81414" stroke-width="1.7" stroke-linejoin="round"/>
<text x="69.70" y="148.40" font-size="9.8" text-anchor="start" fill="#f81414" font-weight="bold" stroke="#f81414" stroke-width="0.35" >A</text>
<text x="196.00" y="148.40" font-size="9.8" text-anchor="start" fill="#f81414" font-weight="bold" stroke="#f81414" stroke-width="0.35" >A'</text>
<rect x="65.6" y="169.6" width="141.7" height="18.6" fill="none" stroke="#808080" stroke-width="1.1"/>
<text x="62.60" y="175.70" font-size="8.4" text-anchor="end" fill="#262626" font-weight="normal" >1</text>
<text x="63.40" y="189.60" font-size="8.4" text-anchor="end" fill="#262626" font-weight="normal" >−2</text>
<path d="M65.3,178.0 C66.8,178.2 70.4,179.2 74.6,179.3 C78.8,179.4 85.2,178.7 90.5,178.5 C95.8,178.3 101.2,178.3 106.5,178.0 C111.8,177.7 117.1,176.8 122.4,176.9 C127.7,177.0 133.9,178.0 138.3,178.5 C142.7,179.0 146.0,179.5 148.9,180.1 C151.8,180.7 152.9,181.8 155.6,182.0 C158.3,182.2 160.7,181.3 164.9,181.2 C169.1,181.1 175.5,181.2 180.8,181.2 C186.1,181.2 192.3,181.5 196.7,181.2 C201.1,180.9 205.5,179.6 207.3,179.3" fill="none" stroke="#1414ec" stroke-width="1.7" stroke-linejoin="round"/>
<text x="69.70" y="176.60" font-size="9.8" text-anchor="start" fill="#1414ec" font-weight="bold" stroke="#1414ec" stroke-width="0.35" >B</text>
<text x="196.00" y="176.60" font-size="9.8" text-anchor="start" fill="#1414ec" font-weight="bold" stroke="#1414ec" stroke-width="0.35" >B'</text>
<text x="64.60" y="198.70" font-size="9.3" text-anchor="middle" fill="#262626" font-weight="normal" textLength="25.96" lengthAdjust="spacingAndGlyphs" >−1000</text>
<text x="100.02" y="198.70" font-size="9.3" text-anchor="middle" fill="#262626" font-weight="normal" textLength="20.82" lengthAdjust="spacingAndGlyphs" >−500</text>
<text x="136.45" y="198.70" font-size="9.3" text-anchor="middle" fill="#262626" font-weight="normal" textLength="4.91" lengthAdjust="spacingAndGlyphs" >0</text>
<text x="171.88" y="198.70" font-size="9.3" text-anchor="middle" fill="#262626" font-weight="normal" textLength="14.69" lengthAdjust="spacingAndGlyphs" >500</text>
<text x="207.30" y="198.70" font-size="9.3" text-anchor="middle" fill="#262626" font-weight="normal" textLength="19.58" lengthAdjust="spacingAndGlyphs" >1000</text>
<text x="136.50" y="209.80" font-size="9.8" text-anchor="middle" fill="#262626" font-weight="normal" >(m)</text>
<text transform="translate(51.3,162.6) rotate(-90)" font-size="8" text-anchor="middle" fill="#262626">(mm)</text>
</g>
<text transform="translate(16.90,684.95) rotate(-90)" font-size="13.3" text-anchor="middle" fill="#000" stroke="#000" stroke-width="0.2">04 May to 20 Aug</text>
<g transform="translate(255.00,567.40)">
<text x="61.80" y="51.60" font-size="8.2" text-anchor="end" fill="#262626" font-weight="normal" >1</text>
<text x="62.00" y="60.20" font-size="8.2" text-anchor="end" fill="#262626" font-weight="normal" >−2</text>
<polyline points="65.2,49.7 65.2,62.3 95.6,111.9 208,100.5" fill="none" stroke="#555" stroke-width="0.8"/>
<line x1="69.43" y1="69.2" x2="66.63" y2="69.53" stroke="#555" stroke-width="0.8"/>
<line x1="80.65" y1="87.5" x2="77.85" y2="87.83" stroke="#555" stroke-width="0.8"/>
<line x1="91.55" y1="105.3" x2="88.75" y2="105.63" stroke="#555" stroke-width="0.8"/>
<line x1="103.1" y1="111.14" x2="104.30" y2="113.34" stroke="#555" stroke-width="0.8"/>
<line x1="142.4" y1="107.15" x2="143.60" y2="109.35" stroke="#555" stroke-width="0.8"/>
<line x1="181.6" y1="103.18" x2="182.80" y2="105.38" stroke="#555" stroke-width="0.8"/>
<line x1="64.8" y1="50" x2="178" y2="37.8" stroke="#ececec" stroke-width="0.8"/>
<clipPath id="cp7"><polygon points="65.8,54.6 130.0,47.0 131.2,46.7 132.5,46.4 133.8,46.0 135.0,45.6 136.2,45.2 137.5,44.8 138.8,44.5 140.0,44.3 141.2,44.2 142.5,44.2 143.8,44.3 145.0,44.4 146.2,44.6 147.5,44.7 148.8,44.7 150.0,44.6 177.5,41.3 206.0,91.4 146.0,98.5 144.8,98.8 143.5,99.2 142.2,99.8 141.0,100.4 139.8,101.0 138.5,101.6 137.2,102.0 136.0,102.2 134.8,102.3 133.5,102.2 132.2,101.9 131.0,101.6 129.8,101.3 128.5,101.0 127.2,100.9 126.0,100.9 94.3,104.7"/></clipPath>
<g clip-path="url(#cp7)">
<polygon points="65.8,54.6 130.0,47.0 131.2,46.7 132.5,46.4 133.8,46.0 135.0,45.6 136.2,45.2 137.5,44.8 138.8,44.5 140.0,44.3 141.2,44.2 142.5,44.2 143.8,44.3 145.0,44.4 146.2,44.6 147.5,44.7 148.8,44.7 150.0,44.6 177.5,41.3 206.0,91.4 146.0,98.5 144.8,98.8 143.5,99.2 142.2,99.8 141.0,100.4 139.8,101.0 138.5,101.6 137.2,102.0 136.0,102.2 134.8,102.3 133.5,102.2 132.2,101.9 131.0,101.6 129.8,101.3 128.5,101.0 127.2,100.9 126.0,100.9 94.3,104.7" fill="#0cc964" stroke="#0cc964" stroke-width="4"/>
<g filter="url(#bl)">
<ellipse cx="140" cy="72" rx="15" ry="30" transform="rotate(5 140 72)" fill="#00b8b8" fill-opacity="0.75"/>
<ellipse cx="112" cy="90" rx="20" ry="9" transform="rotate(-8 112 90)" fill="#00c39c" fill-opacity="0.5"/>
<ellipse cx="185" cy="78" rx="12" ry="8" transform="rotate(-10 185 78)" fill="#00c39c" fill-opacity="0.4"/>
<ellipse cx="87" cy="60" rx="7" ry="4" transform="rotate(0 87 60)" fill="#a8c646" fill-opacity="0.55"/>
<ellipse cx="100" cy="66" rx="9" ry="3" transform="rotate(-15 100 66)" fill="#a8c646" fill-opacity="0.45"/>
<ellipse cx="180" cy="80" rx="8" ry="3" transform="rotate(-10 180 80)" fill="#a8c646" fill-opacity="0.5"/>
<ellipse cx="162" cy="84" rx="12" ry="5" transform="rotate(-30 162 84)" fill="#80c450" fill-opacity="0.75"/>
<ellipse cx="176" cy="76" rx="5" ry="2.5" transform="rotate(-30 176 76)" fill="#a8c646" fill-opacity="0.7"/>
<ellipse cx="145" cy="46" rx="5" ry="2.5" transform="rotate(-5 145 46)" fill="#c8c83a" fill-opacity="1"/>
<ellipse cx="146" cy="87" rx="2.5" ry="3" transform="rotate(0 146 87)" fill="#f4b028" fill-opacity="1"/>
<ellipse cx="123" cy="86" rx="2" ry="1.5" transform="rotate(0 123 86)" fill="#f2d21e" fill-opacity="0.9"/>
</g></g>
<text x="64.20" y="79.40" font-size="9" text-anchor="end" fill="#262626" font-weight="normal" >36.22<tspan fill="#8a8a8a" font-size="8">°</tspan></text>
<text x="74.50" y="97.40" font-size="9" text-anchor="end" fill="#262626" font-weight="normal" >36.21<tspan fill="#8a8a8a" font-size="8">°</tspan></text>
<text x="86.00" y="115.00" font-size="9" text-anchor="end" fill="#262626" font-weight="normal" >36.2<tspan fill="#8a8a8a" font-size="8">°</tspan></text>
<text x="103.20" y="125.80" font-size="9" text-anchor="start" fill="#262626" font-weight="normal" >−106.92<tspan fill="#8a8a8a" font-size="8">°</tspan></text>
<text x="144.00" y="120.80" font-size="9" text-anchor="start" fill="#262626" font-weight="normal" >−106.91<tspan fill="#8a8a8a" font-size="8">°</tspan></text>
<text x="184.30" y="116.00" font-size="9" text-anchor="start" fill="#262626" font-weight="normal" >−106.9<tspan fill="#8a8a8a" font-size="8">°</tspan></text>
<polyline points="97.7,73.5 105.0,73.4 112.0,73.1 120.0,73.0 128.0,72.9 135.5,72.8" fill="none" stroke="#ee1c1c" stroke-width="1.5" stroke-linejoin="round"/>
<path d="M135.5,72.8 C137.1,72.7 140.1,72.5 145.0,72.3 C149.9,72.1 159.2,72.0 165.0,71.6 C170.8,71.2 177.3,70.0 179.8,69.7" fill="none" stroke="#ee1c1c" stroke-width="1.5" stroke-linejoin="round"/>
<line x1="137.2" y1="55.1" x2="135.3" y2="88.8" stroke="#1c1cd8" stroke-width="1.6"/>
<text x="89.20" y="75.50" font-size="10.8" text-anchor="start" fill="#ee1c1c" font-weight="bold" stroke="#ee1c1c" stroke-width="0.3" >A</text>
<text x="180.00" y="71.60" font-size="10.8" text-anchor="start" fill="#ee1c1c" font-weight="bold" stroke="#ee1c1c" stroke-width="0.3" >A'</text>
<text x="140.20" y="59.60" font-size="10.5" text-anchor="start" fill="#1c1cd8" font-weight="bold" stroke="#1c1cd8" stroke-width="0.3" >B</text>
<text x="138.20" y="94.60" font-size="10.5" text-anchor="start" fill="#1c1cd8" font-weight="bold" stroke="#1c1cd8" stroke-width="0.3" >B'</text>
<text x="113.60" y="67.00" font-size="10.3" text-anchor="start" fill="#000" font-weight="bold" textLength="12.2" lengthAdjust="spacingAndGlyphs" stroke="#000" stroke-width="0.3" >NF</text>
<polygon points="135.5,68.1 136.6,71.3 140.0,71.3 137.3,73.4 138.3,76.6 135.5,74.7 132.7,76.6 133.7,73.4 131.0,71.3 134.4,71.3" fill="#000"/>
<rect x="65.6" y="141.4" width="141.7" height="18.3" fill="none" stroke="#808080" stroke-width="1.1"/>
<text x="62.60" y="147.50" font-size="8.4" text-anchor="end" fill="#262626" font-weight="normal" >1</text>
<text x="63.40" y="161.10" font-size="8.4" text-anchor="end" fill="#262626" font-weight="normal" >−2</text>
<path d="M65.3,147.7 C67.7,147.7 74.8,147.7 79.9,147.7 C85.0,147.7 90.6,147.6 95.9,147.7 C101.2,147.8 106.5,148.3 111.8,148.5 C117.1,148.7 124.0,148.8 127.7,149.0 C131.5,149.2 131.7,149.7 134.3,149.5 C137.0,149.3 140.7,147.9 143.6,147.7 C146.5,147.5 148.9,148.3 151.6,148.5 C154.3,148.7 156.9,148.8 159.6,149.0 C162.2,149.2 164.8,149.6 167.5,149.5 C170.2,149.4 172.4,148.9 175.5,148.5 C178.6,148.1 182.6,147.2 186.1,146.9 C189.6,146.6 193.2,146.6 196.7,146.4 C200.2,146.2 205.5,145.9 207.3,145.8" fill="none" stroke="#f81414" stroke-width="1.7" stroke-linejoin="round"/>
<text x="69.70" y="148.40" font-size="9.8" text-anchor="start" fill="#f81414" font-weight="bold" stroke="#f81414" stroke-width="0.35" >A</text>
<text x="196.00" y="148.40" font-size="9.8" text-anchor="start" fill="#f81414" font-weight="bold" stroke="#f81414" stroke-width="0.35" >A'</text>
<rect x="65.6" y="169.6" width="141.7" height="18.6" fill="none" stroke="#808080" stroke-width="1.1"/>
<text x="62.60" y="175.70" font-size="8.4" text-anchor="end" fill="#262626" font-weight="normal" >1</text>
<text x="63.40" y="189.60" font-size="8.4" text-anchor="end" fill="#262626" font-weight="normal" >−2</text>
<path d="M65.3,176.1 C66.8,176.4 70.4,177.4 74.6,177.7 C78.8,178.0 85.2,177.8 90.5,177.7 C95.8,177.6 100.3,177.3 106.5,177.2 C112.7,177.1 121.5,176.8 127.7,176.9 C133.9,177.0 138.7,177.4 143.6,177.7 C148.5,178.0 152.9,178.5 156.9,178.8 C160.9,179.2 164.4,179.5 167.5,179.8 C170.6,180.2 172.4,180.8 175.5,180.9 C178.6,181.0 182.6,180.5 186.1,180.3 C189.6,180.1 193.2,180.2 196.7,179.8 C200.2,179.5 205.5,178.5 207.3,178.2" fill="none" stroke="#1414ec" stroke-width="1.7" stroke-linejoin="round"/>
<text x="69.70" y="176.60" font-size="9.8" text-anchor="start" fill="#1414ec" font-weight="bold" stroke="#1414ec" stroke-width="0.35" >B</text>
<text x="196.00" y="176.60" font-size="9.8" text-anchor="start" fill="#1414ec" font-weight="bold" stroke="#1414ec" stroke-width="0.35" >B'</text>
<text x="64.60" y="198.70" font-size="9.3" text-anchor="middle" fill="#262626" font-weight="normal" textLength="25.96" lengthAdjust="spacingAndGlyphs" >−1000</text>
<text x="100.02" y="198.70" font-size="9.3" text-anchor="middle" fill="#262626" font-weight="normal" textLength="20.82" lengthAdjust="spacingAndGlyphs" >−500</text>
<text x="136.45" y="198.70" font-size="9.3" text-anchor="middle" fill="#262626" font-weight="normal" textLength="4.91" lengthAdjust="spacingAndGlyphs" >0</text>
<text x="171.88" y="198.70" font-size="9.3" text-anchor="middle" fill="#262626" font-weight="normal" textLength="14.69" lengthAdjust="spacingAndGlyphs" >500</text>
<text x="207.30" y="198.70" font-size="9.3" text-anchor="middle" fill="#262626" font-weight="normal" textLength="19.58" lengthAdjust="spacingAndGlyphs" >1000</text>
<text x="136.50" y="209.80" font-size="9.8" text-anchor="middle" fill="#262626" font-weight="normal" >(m)</text>
<text transform="translate(51.3,162.6) rotate(-90)" font-size="8" text-anchor="middle" fill="#262626">(mm)</text>
</g>
<text transform="translate(279.10,683.90) rotate(-90)" font-size="13.6" text-anchor="middle" fill="#000" stroke="#000" stroke-width="0.2">09 May to 13 Aug</text>
<g transform="translate(0.00,755.20)">
<text x="61.80" y="51.60" font-size="8.2" text-anchor="end" fill="#262626" font-weight="normal" >1</text>
<text x="62.00" y="60.20" font-size="8.2" text-anchor="end" fill="#262626" font-weight="normal" >−2</text>
<polyline points="65.2,49.7 65.2,62.3 95.6,111.9 208,100.5" fill="none" stroke="#555" stroke-width="0.8"/>
<line x1="69.43" y1="69.2" x2="66.63" y2="69.53" stroke="#555" stroke-width="0.8"/>
<line x1="80.65" y1="87.5" x2="77.85" y2="87.83" stroke="#555" stroke-width="0.8"/>
<line x1="91.55" y1="105.3" x2="88.75" y2="105.63" stroke="#555" stroke-width="0.8"/>
<line x1="103.1" y1="111.14" x2="104.30" y2="113.34" stroke="#555" stroke-width="0.8"/>
<line x1="142.4" y1="107.15" x2="143.60" y2="109.35" stroke="#555" stroke-width="0.8"/>
<line x1="181.6" y1="103.18" x2="182.80" y2="105.38" stroke="#555" stroke-width="0.8"/>
<line x1="64.8" y1="50" x2="178" y2="37.8" stroke="#ececec" stroke-width="0.8"/>
<clipPath id="cp8"><polygon points="65.8,54.6 135.0,46.4 135.8,46.2 136.5,46.0 137.2,45.7 138.0,45.3 138.8,44.9 139.5,44.6 140.2,44.4 141.0,44.2 141.8,44.2 142.5,44.3 143.2,44.4 144.0,44.6 144.8,44.8 145.5,44.9 146.2,45.0 147.0,44.9 177.5,41.3 206.0,91.4 94.3,104.7"/></clipPath>
<g clip-path="url(#cp8)">
<polygon points="65.8,54.6 135.0,46.4 135.8,46.2 136.5,46.0 137.2,45.7 138.0,45.3 138.8,44.9 139.5,44.6 140.2,44.4 141.0,44.2 141.8,44.2 142.5,44.3 143.2,44.4 144.0,44.6 144.8,44.8 145.5,44.9 146.2,45.0 147.0,44.9 177.5,41.3 206.0,91.4 94.3,104.7" fill="#0cc964" stroke="#0cc964" stroke-width="4"/>
<g filter="url(#bl)">
<ellipse cx="112" cy="90" rx="22" ry="10" transform="rotate(-8 112 90)" fill="#00c39c" fill-opacity="0.55"/>
<ellipse cx="131" cy="77" rx="6" ry="18" transform="rotate(3 131 77)" fill="#00bcc0" fill-opacity="0.9"/>
<ellipse cx="165" cy="64" rx="26" ry="18" transform="rotate(-10 165 64)" fill="#8cc64a" fill-opacity="0.75"/>
<ellipse cx="176" cy="58" rx="9" ry="4" transform="rotate(-10 176 58)" fill="#b8c840" fill-opacity="0.85"/>
<ellipse cx="158" cy="84" rx="10" ry="5" transform="rotate(-10 158 84)" fill="#b8c840" fill-opacity="0.85"/>
<ellipse cx="186" cy="74" rx="6" ry="4" transform="rotate(0 186 74)" fill="#a8c646" fill-opacity="0.8"/>
<ellipse cx="166" cy="70" rx="6" ry="3" transform="rotate(-10 166 70)" fill="#c8c83c" fill-opacity="0.8"/>
<ellipse cx="150" cy="60" rx="5" ry="3" transform="rotate(-10 150 60)" fill="#c0c840" fill-opacity="0.8"/>
<ellipse cx="192" cy="86" rx="8" ry="4" transform="rotate(-10 192 86)" fill="#00c39c" fill-opacity="0.6"/>
<ellipse cx="110" cy="57" rx="14" ry="3.5" transform="rotate(-8 110 57)" fill="#a8c646" fill-opacity="0.5"/>
<ellipse cx="155" cy="52" rx="5" ry="2.5" transform="rotate(-10 155 52)" fill="#c8c83a" fill-opacity="0.7"/>
<ellipse cx="172" cy="54" rx="5" ry="2.5" transform="rotate(-10 172 54)" fill="#c8c83a" fill-opacity="0.7"/>
<ellipse cx="139" cy="49" rx="7" ry="4" transform="rotate(-35 139 49)" fill="#f4b028" fill-opacity="0.95"/>
<ellipse cx="146" cy="85" rx="6" ry="9" transform="rotate(0 146 85)" fill="#f4b028" fill-opacity="1"/>
</g></g>
<text x="64.20" y="79.40" font-size="9" text-anchor="end" fill="#262626" font-weight="normal" >36.22<tspan fill="#8a8a8a" font-size="8">°</tspan></text>
<text x="74.50" y="97.40" font-size="9" text-anchor="end" fill="#262626" font-weight="normal" >36.21<tspan fill="#8a8a8a" font-size="8">°</tspan></text>
<text x="86.00" y="115.00" font-size="9" text-anchor="end" fill="#262626" font-weight="normal" >36.2<tspan fill="#8a8a8a" font-size="8">°</tspan></text>
<text x="103.20" y="125.80" font-size="9" text-anchor="start" fill="#262626" font-weight="normal" >−106.92<tspan fill="#8a8a8a" font-size="8">°</tspan></text>
<text x="144.00" y="120.80" font-size="9" text-anchor="start" fill="#262626" font-weight="normal" >−106.91<tspan fill="#8a8a8a" font-size="8">°</tspan></text>
<text x="184.30" y="116.00" font-size="9" text-anchor="start" fill="#262626" font-weight="normal" >−106.9<tspan fill="#8a8a8a" font-size="8">°</tspan></text>
<polyline points="97.7,73.5 105.0,73.4 112.0,73.1 120.0,73.0 128.0,72.9 136.0,75.0" fill="none" stroke="#ee1c1c" stroke-width="1.5" stroke-linejoin="round"/>
<path d="M136.0,75.0 C137.1,74.6 140.6,72.6 142.6,72.4 C144.6,72.2 145.3,73.6 148.2,73.6 C151.1,73.6 154.8,72.9 160.0,72.5 C165.2,72.1 176.0,71.2 179.2,71.0" fill="none" stroke="#ee1c1c" stroke-width="1.5" stroke-linejoin="round"/>
<line x1="137.2" y1="55.1" x2="135.3" y2="88.8" stroke="#1c1cd8" stroke-width="1.6"/>
<text x="89.20" y="75.50" font-size="10.8" text-anchor="start" fill="#ee1c1c" font-weight="bold" stroke="#ee1c1c" stroke-width="0.3" >A</text>
<text x="180.00" y="71.60" font-size="10.8" text-anchor="start" fill="#ee1c1c" font-weight="bold" stroke="#ee1c1c" stroke-width="0.3" >A'</text>
<text x="140.20" y="59.60" font-size="10.5" text-anchor="start" fill="#1c1cd8" font-weight="bold" stroke="#1c1cd8" stroke-width="0.3" >B</text>
<text x="138.20" y="94.60" font-size="10.5" text-anchor="start" fill="#1c1cd8" font-weight="bold" stroke="#1c1cd8" stroke-width="0.3" >B'</text>
<text x="113.60" y="67.00" font-size="10.3" text-anchor="start" fill="#000" font-weight="bold" textLength="12.2" lengthAdjust="spacingAndGlyphs" stroke="#000" stroke-width="0.3" >NF</text>
<polygon points="136.0,70.3 137.1,73.5 140.5,73.5 137.8,75.6 138.8,78.8 136.0,76.9 133.2,78.8 134.2,75.6 131.5,73.5 134.9,73.5" fill="#000"/>
<rect x="65.6" y="141.4" width="141.7" height="18.3" fill="none" stroke="#808080" stroke-width="1.1"/>
<text x="62.60" y="147.50" font-size="8.4" text-anchor="end" fill="#262626" font-weight="normal" >1</text>
<text x="63.40" y="161.10" font-size="8.4" text-anchor="end" fill="#262626" font-weight="normal" >−2</text>
<path d="M65.3,149.2 C67.7,149.2 74.8,149.2 79.9,149.2 C85.0,149.2 90.6,149.3 95.9,149.2 C101.2,149.1 106.5,148.6 111.8,148.7 C117.1,148.8 123.3,149.5 127.7,149.7 C132.1,149.9 135.2,150.0 138.3,149.7 C141.4,149.4 144.1,148.0 146.3,147.9 C148.5,147.8 150.1,148.7 151.6,149.2 C153.1,149.7 153.4,150.6 155.6,150.8 C157.8,151.0 161.2,150.6 164.9,150.3 C168.7,150.0 173.7,149.6 178.1,149.2 C182.5,148.8 187.4,148.1 191.4,147.9 C195.4,147.7 199.3,148.0 202.0,147.9 C204.7,147.8 206.4,147.2 207.3,147.1" fill="none" stroke="#f81414" stroke-width="1.7" stroke-linejoin="round"/>
<text x="69.70" y="148.40" font-size="9.8" text-anchor="start" fill="#f81414" font-weight="bold" stroke="#f81414" stroke-width="0.35" >A</text>
<text x="196.00" y="148.40" font-size="9.8" text-anchor="start" fill="#f81414" font-weight="bold" stroke="#f81414" stroke-width="0.35" >A'</text>
<rect x="65.6" y="169.6" width="141.7" height="18.6" fill="none" stroke="#808080" stroke-width="1.1"/>
<text x="62.60" y="175.70" font-size="8.4" text-anchor="end" fill="#262626" font-weight="normal" >1</text>
<text x="63.40" y="189.60" font-size="8.4" text-anchor="end" fill="#262626" font-weight="normal" >−2</text>
<path d="M65.3,177.1 C66.8,177.4 70.4,178.7 74.6,179.0 C78.8,179.3 85.2,179.1 90.5,179.0 C95.8,178.9 101.2,178.5 106.5,178.4 C111.8,178.3 117.1,178.3 122.4,178.4 C127.7,178.5 133.9,178.7 138.3,179.0 C142.7,179.3 145.4,180.2 148.9,180.5 C152.4,180.8 156.1,180.9 159.6,181.1 C163.1,181.3 166.2,181.4 170.2,181.6 C174.2,181.8 179.1,182.4 183.5,182.4 C187.9,182.4 192.7,182.1 196.7,181.6 C200.7,181.1 205.5,180.0 207.3,179.7" fill="none" stroke="#1414ec" stroke-width="1.7" stroke-linejoin="round"/>
<text x="69.70" y="176.60" font-size="9.8" text-anchor="start" fill="#1414ec" font-weight="bold" stroke="#1414ec" stroke-width="0.35" >B</text>
<text x="196.00" y="176.60" font-size="9.8" text-anchor="start" fill="#1414ec" font-weight="bold" stroke="#1414ec" stroke-width="0.35" >B'</text>
<text x="64.60" y="198.70" font-size="9.3" text-anchor="middle" fill="#262626" font-weight="normal" textLength="25.96" lengthAdjust="spacingAndGlyphs" >−1000</text>
<text x="100.02" y="198.70" font-size="9.3" text-anchor="middle" fill="#262626" font-weight="normal" textLength="20.82" lengthAdjust="spacingAndGlyphs" >−500</text>
<text x="136.45" y="198.70" font-size="9.3" text-anchor="middle" fill="#262626" font-weight="normal" textLength="4.91" lengthAdjust="spacingAndGlyphs" >0</text>
<text x="171.88" y="198.70" font-size="9.3" text-anchor="middle" fill="#262626" font-weight="normal" textLength="14.69" lengthAdjust="spacingAndGlyphs" >500</text>
<text x="207.30" y="198.70" font-size="9.3" text-anchor="middle" fill="#262626" font-weight="normal" textLength="19.58" lengthAdjust="spacingAndGlyphs" >1000</text>
<text x="136.50" y="209.80" font-size="9.8" text-anchor="middle" fill="#262626" font-weight="normal" >(m)</text>
<text transform="translate(51.3,162.6) rotate(-90)" font-size="8" text-anchor="middle" fill="#262626">(mm)</text>
</g>
<text transform="translate(16.90,874.20) rotate(-90)" font-size="13.3" text-anchor="middle" fill="#000" stroke="#000" stroke-width="0.2">16 May to 01 Sep</text>
<g transform="translate(255.00,756.20)">
<text x="61.80" y="51.60" font-size="8.2" text-anchor="end" fill="#262626" font-weight="normal" >1</text>
<text x="62.00" y="60.20" font-size="8.2" text-anchor="end" fill="#262626" font-weight="normal" >−2</text>
<polyline points="65.2,49.7 65.2,62.3 95.6,111.9 208,100.5" fill="none" stroke="#555" stroke-width="0.8"/>
<line x1="69.43" y1="69.2" x2="66.63" y2="69.53" stroke="#555" stroke-width="0.8"/>
<line x1="80.65" y1="87.5" x2="77.85" y2="87.83" stroke="#555" stroke-width="0.8"/>
<line x1="91.55" y1="105.3" x2="88.75" y2="105.63" stroke="#555" stroke-width="0.8"/>
<line x1="103.1" y1="111.14" x2="104.30" y2="113.34" stroke="#555" stroke-width="0.8"/>
<line x1="142.4" y1="107.15" x2="143.60" y2="109.35" stroke="#555" stroke-width="0.8"/>
<line x1="181.6" y1="103.18" x2="182.80" y2="105.38" stroke="#555" stroke-width="0.8"/>
<line x1="64.8" y1="50" x2="178" y2="37.8" stroke="#ececec" stroke-width="0.8"/>
<clipPath id="cp9"><polygon points="65.8,54.6 131.0,46.8 132.5,46.5 134.0,45.8 135.5,44.8 137.0,43.7 138.5,42.6 140.0,41.7 141.5,41.0 143.0,40.6 144.5,40.6 146.0,41.0 147.5,41.6 149.0,42.3 150.5,43.0 152.0,43.6 153.5,44.0 155.0,44.0 177.5,41.3 206.0,91.4 94.3,104.7"/></clipPath>
<g clip-path="url(#cp9)">
<polygon points="65.8,54.6 131.0,46.8 132.5,46.5 134.0,45.8 135.5,44.8 137.0,43.7 138.5,42.6 140.0,41.7 141.5,41.0 143.0,40.6 144.5,40.6 146.0,41.0 147.5,41.6 149.0,42.3 150.5,43.0 152.0,43.6 153.5,44.0 155.0,44.0 177.5,41.3 206.0,91.4 94.3,104.7" fill="#0cc964" stroke="#0cc964" stroke-width="4"/>
<g filter="url(#bl)">
<ellipse cx="172" cy="74" rx="34" ry="24" transform="rotate(-10 172 74)" fill="#00bca4" fill-opacity="0.85"/>
<ellipse cx="137" cy="74" rx="12" ry="24" transform="rotate(5 137 74)" fill="#00b4b8" fill-opacity="0.75"/>
<ellipse cx="112" cy="90" rx="20" ry="9" transform="rotate(-8 112 90)" fill="#00c39c" fill-opacity="0.5"/>
<ellipse cx="98" cy="57" rx="10" ry="3" transform="rotate(-8 98 57)" fill="#a8c646" fill-opacity="0.6"/>
<ellipse cx="112" cy="62" rx="5" ry="3" transform="rotate(0 112 62)" fill="#a8c646" fill-opacity="0.5"/>
<ellipse cx="118" cy="58" rx="8" ry="3" transform="rotate(0 118 58)" fill="#a8c646" fill-opacity="0.5"/>
<ellipse cx="160" cy="51" rx="4" ry="1.5" transform="rotate(0 160 51)" fill="#c8c83a" fill-opacity="0.7"/>
<ellipse cx="145" cy="44" rx="7" ry="4" transform="rotate(-15 145 44)" fill="#f2d21e" fill-opacity="1"/>
<ellipse cx="138" cy="50" rx="7" ry="3.5" transform="rotate(-40 138 50)" fill="#f4b028" fill-opacity="0.95"/>
<ellipse cx="132" cy="55" rx="4" ry="3" transform="rotate(-40 132 55)" fill="#f4b028" fill-opacity="0.8"/>
<ellipse cx="126" cy="97" rx="5" ry="3" transform="rotate(0 126 97)" fill="#f4b028" fill-opacity="0.95"/>
</g></g>
<text x="64.20" y="79.40" font-size="9" text-anchor="end" fill="#262626" font-weight="normal" >36.22<tspan fill="#8a8a8a" font-size="8">°</tspan></text>
<text x="74.50" y="97.40" font-size="9" text-anchor="end" fill="#262626" font-weight="normal" >36.21<tspan fill="#8a8a8a" font-size="8">°</tspan></text>
<text x="86.00" y="115.00" font-size="9" text-anchor="end" fill="#262626" font-weight="normal" >36.2<tspan fill="#8a8a8a" font-size="8">°</tspan></text>
<text x="103.20" y="125.80" font-size="9" text-anchor="start" fill="#262626" font-weight="normal" >−106.92<tspan fill="#8a8a8a" font-size="8">°</tspan></text>
<text x="144.00" y="120.80" font-size="9" text-anchor="start" fill="#262626" font-weight="normal" >−106.91<tspan fill="#8a8a8a" font-size="8">°</tspan></text>
<text x="184.30" y="116.00" font-size="9" text-anchor="start" fill="#262626" font-weight="normal" >−106.9<tspan fill="#8a8a8a" font-size="8">°</tspan></text>
<polyline points="97.7,73.5 105.0,73.4 112.0,73.1 120.0,73.0 128.0,72.9 135.5,73.2" fill="none" stroke="#ee1c1c" stroke-width="1.5" stroke-linejoin="round"/>
<path d="M135.5,73.2 C137.9,73.0 145.1,72.5 150.0,72.2 C154.9,71.9 160.0,71.7 165.0,71.3 C170.0,70.9 177.3,70.0 179.8,69.8" fill="none" stroke="#ee1c1c" stroke-width="1.5" stroke-linejoin="round"/>
<line x1="137.2" y1="55.1" x2="135.3" y2="88.8" stroke="#1c1cd8" stroke-width="1.6"/>
<text x="89.20" y="75.50" font-size="10.8" text-anchor="start" fill="#ee1c1c" font-weight="bold" stroke="#ee1c1c" stroke-width="0.3" >A</text>
<text x="180.00" y="71.60" font-size="10.8" text-anchor="start" fill="#ee1c1c" font-weight="bold" stroke="#ee1c1c" stroke-width="0.3" >A'</text>
<text x="140.20" y="59.60" font-size="10.5" text-anchor="start" fill="#1c1cd8" font-weight="bold" stroke="#1c1cd8" stroke-width="0.3" >B</text>
<text x="138.20" y="94.60" font-size="10.5" text-anchor="start" fill="#1c1cd8" font-weight="bold" stroke="#1c1cd8" stroke-width="0.3" >B'</text>
<text x="113.60" y="67.00" font-size="10.3" text-anchor="start" fill="#000" font-weight="bold" textLength="12.2" lengthAdjust="spacingAndGlyphs" stroke="#000" stroke-width="0.3" >NF</text>
<polygon points="135.5,68.5 136.6,71.7 140.0,71.7 137.3,73.8 138.3,77.0 135.5,75.1 132.7,77.0 133.7,73.8 131.0,71.7 134.4,71.7" fill="#000"/>
<rect x="65.6" y="141.4" width="141.7" height="18.3" fill="none" stroke="#808080" stroke-width="1.1"/>
<text x="62.60" y="147.50" font-size="8.4" text-anchor="end" fill="#262626" font-weight="normal" >1</text>
<text x="63.40" y="161.10" font-size="8.4" text-anchor="end" fill="#262626" font-weight="normal" >−2</text>
<path d="M65.3,148.1 C67.7,148.2 74.8,148.8 79.9,148.9 C85.0,149.0 90.6,149.0 95.9,148.9 C101.2,148.8 107.4,148.1 111.8,148.1 C116.2,148.1 119.8,148.6 122.4,148.9 C125.1,149.2 124.2,149.8 127.7,149.9 C131.2,150.0 138.3,149.4 143.6,149.4 C148.9,149.4 154.3,149.9 159.6,149.9 C164.9,149.9 170.2,149.6 175.5,149.4 C180.8,149.2 186.1,149.1 191.4,148.9 C196.7,148.7 204.7,148.2 207.3,148.1" fill="none" stroke="#f81414" stroke-width="1.7" stroke-linejoin="round"/>
<text x="69.70" y="148.40" font-size="9.8" text-anchor="start" fill="#f81414" font-weight="bold" stroke="#f81414" stroke-width="0.35" >A</text>
<text x="196.00" y="148.40" font-size="9.8" text-anchor="start" fill="#f81414" font-weight="bold" stroke="#f81414" stroke-width="0.35" >A'</text>
<rect x="65.6" y="169.6" width="141.7" height="18.6" fill="none" stroke="#808080" stroke-width="1.1"/>
<text x="62.60" y="175.70" font-size="8.4" text-anchor="end" fill="#262626" font-weight="normal" >1</text>
<text x="63.40" y="189.60" font-size="8.4" text-anchor="end" fill="#262626" font-weight="normal" >−2</text>
<path d="M65.3,177.3 C66.8,177.5 70.4,178.4 74.6,178.6 C78.8,178.8 85.2,178.7 90.5,178.6 C95.8,178.5 101.2,178.3 106.5,178.1 C111.8,177.9 117.1,177.6 122.4,177.6 C127.7,177.6 133.0,177.9 138.3,178.1 C143.6,178.3 149.0,178.6 154.3,178.6 C159.6,178.6 164.9,178.1 170.2,178.1 C175.5,178.1 179.9,178.6 186.1,178.6 C192.3,178.6 203.8,178.2 207.3,178.1" fill="none" stroke="#1414ec" stroke-width="1.7" stroke-linejoin="round"/>
<text x="69.70" y="176.60" font-size="9.8" text-anchor="start" fill="#1414ec" font-weight="bold" stroke="#1414ec" stroke-width="0.35" >B</text>
<text x="196.00" y="176.60" font-size="9.8" text-anchor="start" fill="#1414ec" font-weight="bold" stroke="#1414ec" stroke-width="0.35" >B'</text>
<text x="64.60" y="198.70" font-size="9.3" text-anchor="middle" fill="#262626" font-weight="normal" textLength="25.96" lengthAdjust="spacingAndGlyphs" >−1000</text>
<text x="100.02" y="198.70" font-size="9.3" text-anchor="middle" fill="#262626" font-weight="normal" textLength="20.82" lengthAdjust="spacingAndGlyphs" >−500</text>
<text x="136.45" y="198.70" font-size="9.3" text-anchor="middle" fill="#262626" font-weight="normal" textLength="4.91" lengthAdjust="spacingAndGlyphs" >0</text>
<text x="171.88" y="198.70" font-size="9.3" text-anchor="middle" fill="#262626" font-weight="normal" textLength="14.69" lengthAdjust="spacingAndGlyphs" >500</text>
<text x="207.30" y="198.70" font-size="9.3" text-anchor="middle" fill="#262626" font-weight="normal" textLength="19.58" lengthAdjust="spacingAndGlyphs" >1000</text>
<text x="136.50" y="209.80" font-size="9.8" text-anchor="middle" fill="#262626" font-weight="normal" >(m)</text>
<text transform="translate(51.3,162.6) rotate(-90)" font-size="8" text-anchor="middle" fill="#262626">(mm)</text>
</g>
<text transform="translate(279.10,873.30) rotate(-90)" font-size="13.6" text-anchor="middle" fill="#000" stroke="#000" stroke-width="0.2">21 May to 25 Aug</text>
<text transform="translate(29.0,85.6) rotate(58)" font-size="9.4" fill="#262626">Latitude</text>
<text transform="translate(151.4,130) rotate(-5)" font-size="10" fill="#262626">Longitude</text>
<rect x="493.3" y="46.4" width="16.3" height="152" fill="url(#cb)" stroke="#333" stroke-width="0.6"/>
<line x1="509.6" y1="65.8" x2="507.8" y2="65.8" stroke="#333" stroke-width="0.6"/>
<text x="514.90" y="70.20" font-size="12.5" text-anchor="start" fill="#262626" font-weight="normal" >1</text>
<line x1="509.6" y1="103.8" x2="507.8" y2="103.8" stroke="#333" stroke-width="0.6"/>
<text x="514.90" y="108.20" font-size="12.5" text-anchor="start" fill="#262626" font-weight="normal" >0</text>
<line x1="509.6" y1="141.8" x2="507.8" y2="141.8" stroke="#333" stroke-width="0.6"/>
<text x="511.20" y="146.20" font-size="12.5" text-anchor="start" fill="#262626" font-weight="normal" >−1</text>
<line x1="509.6" y1="179.8" x2="507.8" y2="179.8" stroke="#333" stroke-width="0.6"/>
<text x="511.20" y="184.20" font-size="12.5" text-anchor="start" fill="#262626" font-weight="normal" >−2</text>
<text transform="translate(541.0,122.4) rotate(-90)" font-size="11.2" text-anchor="middle" fill="#262626" textLength="108" lengthAdjust="spacingAndGlyphs">displacement (mm)</text>
</g></svg></body></html>
